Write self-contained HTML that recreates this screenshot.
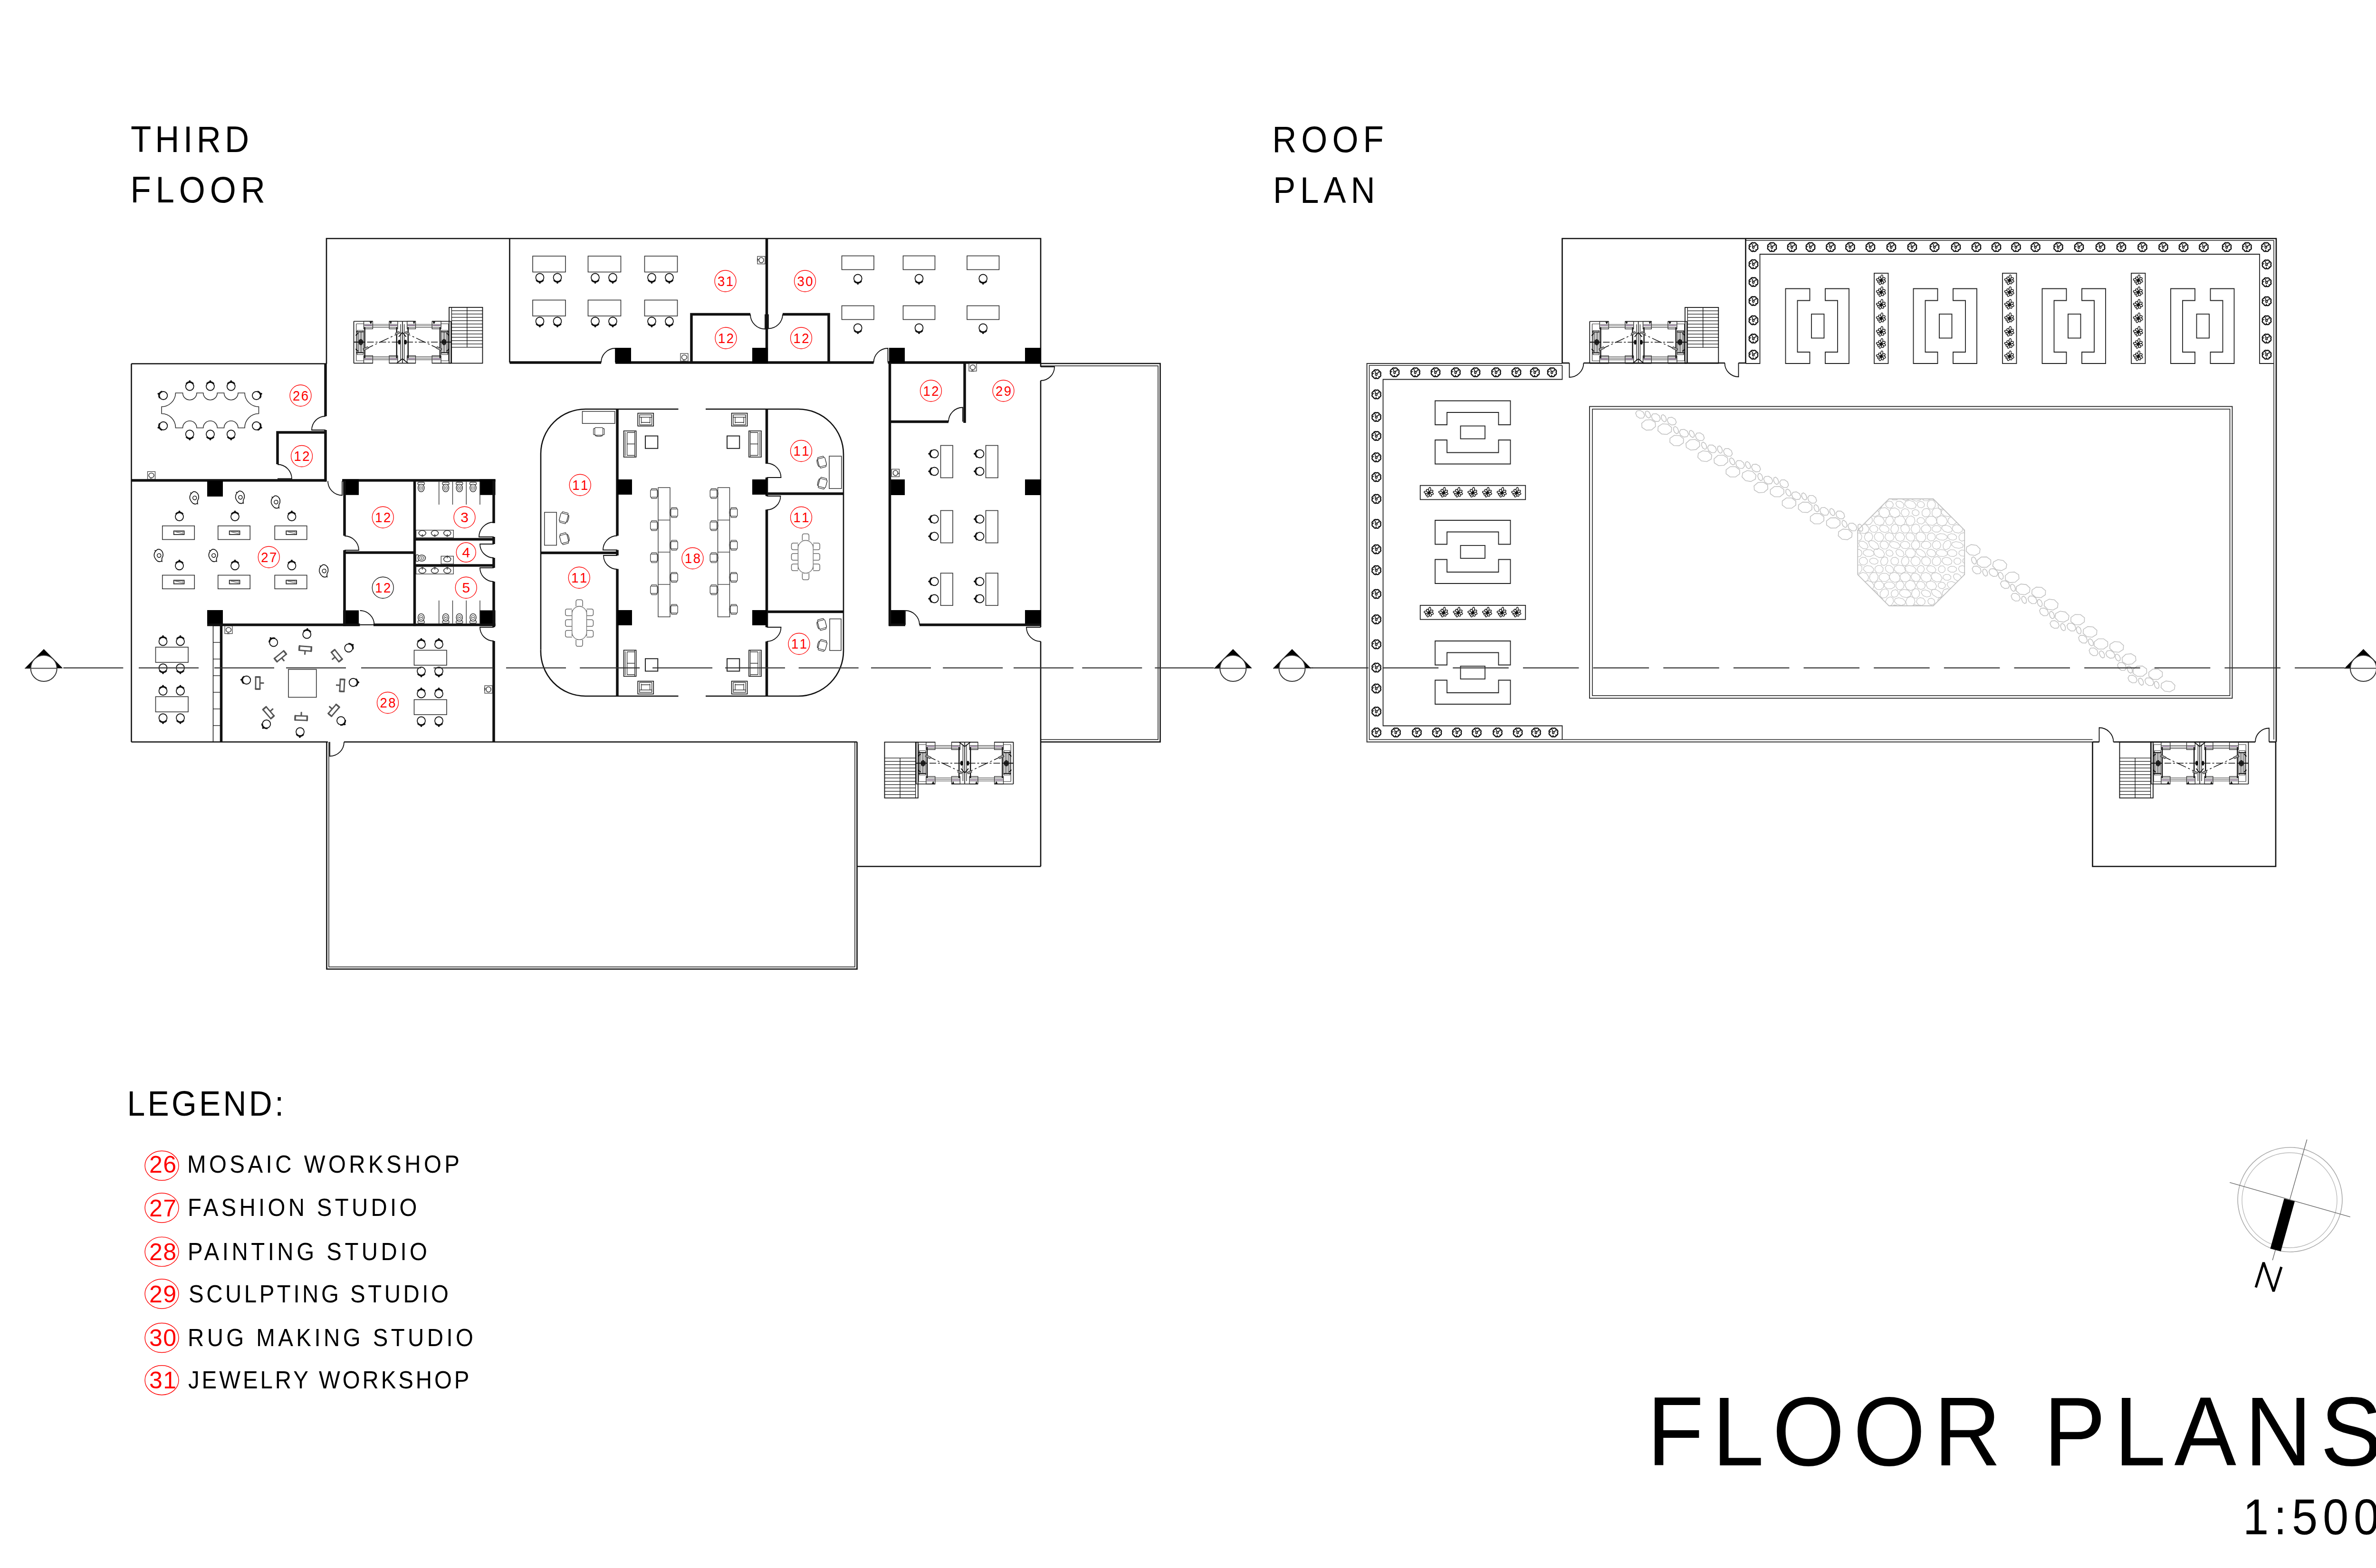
<!DOCTYPE html>
<html><head><meta charset="utf-8"><style>
html,body{margin:0;padding:0;background:#fff;}
body{width:5100px;height:3300px;overflow:hidden;}
svg{position:absolute;left:0;top:0;}
text{font-family:"Liberation Sans",sans-serif;}
</style></head><body>
<svg width="5100" height="3300" viewBox="0 0 5100 3300" stroke-linecap="butt">
<defs><g id="shrub"><path d="M8.6,0 A4,4 0 0 1 6.08,6.08 A4,4 0 0 1 0,8.6 A4,4 0 0 1 -6.08,6.08 A4,4 0 0 1 -8.6,0 A4,4 0 0 1 -6.08,-6.08 A4,4 0 0 1 -0,-8.6 A4,4 0 0 1 6.08,-6.08 A4,4 0 0 1 8.6,-0 Z" fill="none" stroke="#111" stroke-width="2.4"/><path d="M1.8,-2.5 Q-2.5,-1 -2.2,1.8 Q-1,3.6 1.2,2.2 Z M1.6,-2.5 L6.5,-3.5 M-6,-7.5 Q-2,-7 -2,-4 Q-3,-2.5 -1.5,-1 M5,-6 L4.5,-4.5 M-8.5,-1 L-5,-2 M-0.5,5.5 L-1.5,8.5 M7,6 L4,5" fill="none" stroke="#111" stroke-width="1.7"/></g><g id="flower"><ellipse cx="6.05" cy="0" rx="5.5" ry="2.3" transform="rotate(-80)" fill="#fff" stroke="#111" stroke-width="1.5"/><ellipse cx="4.95" cy="0" rx="4.5" ry="2.3" transform="rotate(-30)" fill="#fff" stroke="#111" stroke-width="1.5"/><ellipse cx="4.95" cy="0" rx="4.5" ry="2.3" transform="rotate(15)" fill="#fff" stroke="#111" stroke-width="1.5"/><ellipse cx="4.4" cy="0" rx="4" ry="2.3" transform="rotate(60)" fill="#fff" stroke="#111" stroke-width="1.5"/><ellipse cx="4.95" cy="0" rx="4.5" ry="2.3" transform="rotate(110)" fill="#fff" stroke="#111" stroke-width="1.5"/><ellipse cx="4.4" cy="0" rx="4" ry="2.3" transform="rotate(150)" fill="#fff" stroke="#111" stroke-width="1.5"/><ellipse cx="5.5" cy="0" rx="5" ry="2.3" transform="rotate(190)" fill="#fff" stroke="#111" stroke-width="1.5"/><ellipse cx="4.4" cy="0" rx="4" ry="2.3" transform="rotate(235)" fill="#fff" stroke="#111" stroke-width="1.5"/><circle cx="0" cy="0" r="3.2" fill="#111"/></g><g id="ochair"><rect x="-9" y="-8" width="18" height="16" rx="3" fill="#fff" stroke="#333" stroke-width="1.4"/><rect x="-11.5" y="-6" width="3" height="13" rx="1.2" fill="#fff" stroke="#333" stroke-width="1.2"/><rect x="8.5" y="-6" width="3" height="13" rx="1.2" fill="#fff" stroke="#333" stroke-width="1.2"/><path d="M-8,9 Q0,12 8,9" fill="none" stroke="#333" stroke-width="1.4"/></g><g id="cchair"><path d="M-7,6 V-4 Q-7,-8 -3,-8 H3 Q7,-8 7,-4 V6" fill="#fff" stroke="#666" stroke-width="1.5"/><path d="M-5,6 H5" stroke="#666" stroke-width="1.5"/></g><g id="armchair"><rect x="-16.5" y="-13.5" width="33" height="27" fill="#fff" stroke="#111" stroke-width="1.6"/><rect x="-13" y="-10" width="26" height="5" fill="none" stroke="#111" stroke-width="1.2"/><path d="M-13,-5 V11 M13,-5 V11 M-13,11 H13 M-9,-5 L-9,8 M9,-5 L9,8 M-9,6 H9" fill="none" stroke="#111" stroke-width="1.1"/></g><g id="sofa"><rect x="-13" y="-27.5" width="26" height="55" fill="#fff" stroke="#111" stroke-width="1.6"/><path d="M-10,-25 V25 M-6,-24 V24 M-6,0 H10 M-6,-24 H10 M-6,24 H10 M10,-27 V27" fill="none" stroke="#111" stroke-width="1.1"/></g><g id="manq"><path d="M-8,-9 Q-12,-2 -8,5 Q-4,10 3,12 Q10,12 11,7 Q8,3 9,-2 Q7,-10 0,-12 Q-6,-13 -8,-9 Z" fill="none" stroke="#111" stroke-width="1.7"/><circle cx="1" cy="0" r="4" fill="none" stroke="#111" stroke-width="1.5"/><path d="M-9,-6 h-3 M10,8 l3,1" stroke="#111" stroke-width="1.6"/></g><g id="easel"><rect x="-13" y="-4.5" width="26" height="9" rx="1.5" fill="#fff" stroke="#555" stroke-width="2.8"/><path d="M-12.5,-6 V6 M12.5,-6 V6" stroke="#555" stroke-width="3.2"/><path d="M0,4.5 V13" stroke="#555" stroke-width="3"/></g><g id="toilet"><rect x="-7" y="-12" width="14" height="5" rx="2" fill="#fff" stroke="#333" stroke-width="1.3"/><ellipse cx="0" cy="0" rx="6.5" ry="8" fill="#fff" stroke="#333" stroke-width="1.6"/><ellipse cx="0" cy="0" rx="3.5" ry="4.5" fill="none" stroke="#333" stroke-width="1.2"/><circle cx="0" cy="0" r="1.3" fill="#333"/></g><g id="sink"><ellipse cx="0" cy="0" rx="7.5" ry="5.5" fill="none" stroke="#333" stroke-width="1.6"/><path d="M0,2 V8 M-3,6 H3" stroke="#333" stroke-width="1.4"/></g><g id="wsink"><rect x="-8" y="-8" width="16" height="16" fill="#fff" stroke="#333" stroke-width="1.2"/><ellipse cx="0" cy="0" rx="5.5" ry="5" fill="none" stroke="#333" stroke-width="1.5"/><path d="M-1,5 V9 M-4,8 H3" stroke="#333" stroke-width="1.3"/></g><g id="car" fill="none"><path d="M0,0 H39.9 M74.6,0 H102.3 M0,88.2 H39.9 M74.6,88.2 H102.3 M0,0 V88.2" stroke="#111" stroke-width="1.7"/><path d="M5.25,5.25 H21 M5.25,83 H21 M5.25,5.25 V83" stroke="#333" stroke-width="1.2"/><rect x="21" y="0" width="18.9" height="15.8" fill="none" stroke="#222" stroke-width="1.3"/><rect x="74.6" y="0" width="17.8" height="15.8" fill="none" stroke="#222" stroke-width="1.3"/><rect x="21" y="72.4" width="18.9" height="15.8" fill="none" stroke="#222" stroke-width="1.3"/><rect x="74.6" y="72.4" width="17.8" height="15.8" fill="none" stroke="#222" stroke-width="1.3"/><path d="M33,1 L39,-0 L36,6 Z M80,1 L75,0 L78,6 Z" fill="#111"/><path d="M21,6.3 H92.4 M21,12.6 H92.4 M21,74.6 H92.4 M21,80.9 H92.4 M21,9.3 H92.4 M21,77.8 H92.4" stroke="#444" stroke-width="1.1"/><path d="M23,8.3 H38 M76,8.3 H91 M23,79 H38 M76,79 H91" stroke="#a070b0" stroke-width="1"/><path d="M23.1,12.6 V77.7 M90.3,12.6 V77.7" stroke="#111" stroke-width="2.4"/><path d="M2,43.7 H96" stroke="#111" stroke-width="1.4" stroke-dasharray="14,4,4,4"/><path d="M20.7,60.1 L94.2,25.5" stroke="#111" stroke-width="1.5" stroke-dasharray="22,5,4,5"/><path d="M19,58 l10,-5 l2.5,3.5 l-10,5 Z M87,25 l8,-4 l2.5,3.5 l-8,4 Z" fill="#999" stroke="#222" stroke-width="1"/><path d="M7,19 H20 V70 H7 Z M10,22 V67 M13.5,22 V67 M16.5,22 V67" stroke="#222" stroke-width="1.2"/><path d="M5,22 H21 M5,66 H21 M4,30 l5,-5 M4,58 l5,5" stroke="#111" stroke-width="2"/><ellipse cx="14.7" cy="43.7" rx="5" ry="6.5" fill="#222"/><path d="M0,43.7 H22" stroke="#111" stroke-width="2"/><ellipse cx="95.8" cy="43.7" rx="2.8" ry="5" fill="#111"/><path d="M102.3,0 V88.2 M98.5,6 V83" stroke="#222" stroke-width="1.3"/><path d="M94.5,32.6 L102.3,23.1 M90.3,88.2 L102.3,78.8" stroke="#111" stroke-width="1.8"/></g><g id="elev" fill="none"><use href="#car"/><use href="#car" transform="translate(204.6,0) scale(-1,1)"/><rect x="200.6" y="-29.4" width="70.4" height="117.6" fill="none" stroke="#111" stroke-width="1.8"/><path d="M205.9,-29.4 V88.2" stroke="#111" stroke-width="1.3"/><path d="M205.9,-22.4 H271 M205.9,-15.4 H271 M205.9,-8.4 H271 M205.9,-1.4 H271 M205.9,5.6 H271 M205.9,12.6 H271 M205.9,19.6 H271 M205.9,26.6 H271 M205.9,33.6 H271 M205.9,40.6 H271 M205.9,47.6 H271 M205.9,54.6 H271" stroke="#111" stroke-width="1.4"/><path d="M238.4,-29.4 V54.6" stroke="#111" stroke-width="1.3"/></g></defs>
<polyline points="687,765.5 687,502 2190,502 2190,772" fill="none" stroke="#111" stroke-width="2.6"/>
<line x1="2190" y1="801" x2="2190" y2="1320" stroke="#111" stroke-width="2.6"/>
<line x1="2190" y1="1350" x2="2190" y2="1823.5" stroke="#111" stroke-width="2.6"/>
<line x1="2190" y1="1823.5" x2="1803.5" y2="1823.5" stroke="#111" stroke-width="2.6"/>
<line x1="276.5" y1="765.5" x2="687" y2="765.5" stroke="#111" stroke-width="2.6"/>
<line x1="276.5" y1="765.5" x2="276.5" y2="1561.5" stroke="#111" stroke-width="2.6"/>
<line x1="276.5" y1="1561.5" x2="690" y2="1561.5" stroke="#111" stroke-width="2.6"/>
<line x1="724" y1="1561.5" x2="1803.5" y2="1561.5" stroke="#111" stroke-width="2.6"/>
<path d="M724,1561.5 A30,30 0 0 1 694,1591.5 L694,1561.5" fill="none" stroke="#111" stroke-width="1.8"/>
<polyline points="2190,765 2441.5,765 2441.5,1561.5 2190,1561.5" fill="none" stroke="#111" stroke-width="2.6"/>
<polyline points="2190,770 2437,770 2437,1556.5 2190,1556.5" fill="none" stroke="#111" stroke-width="1.5"/>
<polyline points="687.5,1561.5 687.5,2039.5 1803.5,2039.5 1803.5,1561.5" fill="none" stroke="#111" stroke-width="2.6"/>
<polyline points="692,1561.5 692,2035 1799,2035 1799,1561.5" fill="none" stroke="#111" stroke-width="1.5"/>
<line x1="685" y1="765" x2="685" y2="876" stroke="#111" stroke-width="5.5"/>
<line x1="685" y1="905" x2="685" y2="1013.5" stroke="#111" stroke-width="5.5"/>
<polyline points="584,977 584,910 685,910" fill="none" stroke="#111" stroke-width="5.5"/>
<path d="M584,977.5 A30,30 0 0 1 614,1007.5 L584,1007.5" fill="none" stroke="#111" stroke-width="1.8"/>
<line x1="276.5" y1="1011" x2="687" y2="1011" stroke="#111" stroke-width="5.5"/>
<line x1="720" y1="1011" x2="1042.5" y2="1011" stroke="#111" stroke-width="5.5"/>
<path d="M690,1012.5 A30,30 0 0 0 720,1042.5 L720,1012.5" fill="none" stroke="#111" stroke-width="1.8"/>
<path d="M685,876 A29,29 0 0 0 656,905 L685,905" fill="none" stroke="#111" stroke-width="1.8"/>
<rect x="436" y="1012" width="33" height="33" fill="#000"/>
<rect x="722" y="1008.75" width="33" height="33" fill="#000"/>
<rect x="1009.5" y="1008.75" width="33" height="33" fill="#000"/>
<rect x="436" y="1284" width="33" height="33" fill="#000"/>
<rect x="722" y="1284.5" width="33" height="33" fill="#000"/>
<rect x="1009.5" y="1284.5" width="33" height="33" fill="#000"/>
<line x1="725" y1="1011" x2="725" y2="1127.5" stroke="#111" stroke-width="5.5"/>
<line x1="725" y1="1158" x2="725" y2="1317.5" stroke="#111" stroke-width="5.5"/>
<path d="M725,1128 A30,30 0 0 1 755,1158 L725,1158" fill="none" stroke="#111" stroke-width="1.8"/>
<line x1="872.5" y1="1011" x2="872.5" y2="1317.5" stroke="#111" stroke-width="5.5"/>
<line x1="725" y1="1163" x2="872.5" y2="1163" stroke="#111" stroke-width="5.5"/>
<line x1="1039" y1="1011" x2="1039" y2="1101" stroke="#111" stroke-width="5.5"/>
<line x1="1039" y1="1130" x2="1039" y2="1145" stroke="#111" stroke-width="5.5"/>
<line x1="1039" y1="1174" x2="1039" y2="1195" stroke="#111" stroke-width="5.5"/>
<line x1="1039" y1="1224" x2="1039" y2="1320" stroke="#111" stroke-width="5.5"/>
<line x1="1039" y1="1349" x2="1039" y2="1561.5" stroke="#111" stroke-width="5.5"/>
<path d="M1039,1099 A31,31 0 0 0 1008,1130 L1039,1130" fill="none" stroke="#111" stroke-width="1.8"/>
<path d="M1039,1174 A29,29 0 0 1 1010,1145 L1039,1145" fill="none" stroke="#111" stroke-width="1.8"/>
<path d="M1039,1224 A29,29 0 0 1 1010,1195 L1039,1195" fill="none" stroke="#111" stroke-width="1.8"/>
<path d="M1039,1349 A29,29 0 0 1 1010,1320 L1039,1320" fill="none" stroke="#111" stroke-width="1.8"/>
<line x1="872.5" y1="1135" x2="1039" y2="1135" stroke="#111" stroke-width="5.5"/>
<line x1="872.5" y1="1190" x2="1039" y2="1190" stroke="#111" stroke-width="5.5"/>
<line x1="436" y1="1315" x2="757.5" y2="1315" stroke="#111" stroke-width="5.5"/>
<line x1="786" y1="1315" x2="1042.5" y2="1315" stroke="#111" stroke-width="5.5"/>
<path d="M757.5,1285 A30,30 0 0 1 787.5,1315 L757.5,1315" fill="none" stroke="#111" stroke-width="1.8"/>
<line x1="465.5" y1="1315" x2="465.5" y2="1561.5" stroke="#111" stroke-width="5.5"/>
<line x1="448.5" y1="1315" x2="448.5" y2="1561.5" stroke="#111" stroke-width="1.5"/>
<line x1="448.5" y1="1317" x2="463" y2="1317" stroke="#111" stroke-width="1.3"/>
<line x1="448.5" y1="1352" x2="463" y2="1352" stroke="#111" stroke-width="1.3"/>
<line x1="448.5" y1="1387" x2="463" y2="1387" stroke="#111" stroke-width="1.3"/>
<line x1="448.5" y1="1422" x2="463" y2="1422" stroke="#111" stroke-width="1.3"/>
<line x1="448.5" y1="1457" x2="463" y2="1457" stroke="#111" stroke-width="1.3"/>
<line x1="448.5" y1="1492" x2="463" y2="1492" stroke="#111" stroke-width="1.3"/>
<line x1="448.5" y1="1527" x2="463" y2="1527" stroke="#111" stroke-width="1.3"/>
<line x1="1072.5" y1="502" x2="1072.5" y2="763" stroke="#111" stroke-width="2.6"/>
<line x1="1613.5" y1="502" x2="1613.5" y2="763" stroke="#111" stroke-width="5.5"/>
<line x1="1072.5" y1="763" x2="1265" y2="763" stroke="#111" stroke-width="5.5"/>
<line x1="1295" y1="763" x2="1838.5" y2="763" stroke="#111" stroke-width="5.5"/>
<line x1="1868.5" y1="763" x2="2190" y2="763" stroke="#111" stroke-width="5.5"/>
<path d="M1265,763 A30,30 0 0 1 1295,733 L1295,763" fill="none" stroke="#111" stroke-width="1.8"/>
<path d="M1838.5,763 A30,30 0 0 1 1868.5,733 L1868.5,763" fill="none" stroke="#111" stroke-width="1.8"/>
<polyline points="1455,763 1455,661.5 1579,661.5" fill="none" stroke="#111" stroke-width="5.5"/>
<path d="M1579,661.5 A31,31 0 0 0 1610,692.5 L1610,661.5" fill="none" stroke="#111" stroke-width="1.8"/>
<polyline points="1647,661.5 1744,661.5 1744,763" fill="none" stroke="#111" stroke-width="5.5"/>
<path d="M1647,661.5 A30,30 0 0 1 1617,691.5 L1617,661.5" fill="none" stroke="#111" stroke-width="1.8"/>
<rect x="1295" y="732" width="33" height="33" fill="#000"/>
<rect x="1583" y="732" width="33" height="33" fill="#000"/>
<rect x="1871" y="732" width="33" height="33" fill="#000"/>
<rect x="2157" y="732" width="33" height="33" fill="#000"/>
<rect x="1871" y="1009" width="33" height="33" fill="#000"/>
<rect x="2157" y="1009" width="33" height="33" fill="#000"/>
<rect x="1871" y="1284" width="33" height="33" fill="#000"/>
<rect x="2157" y="1284" width="33" height="33" fill="#000"/>
<line x1="1872.5" y1="763" x2="1872.5" y2="1317.5" stroke="#111" stroke-width="5.5"/>
<line x1="1872.5" y1="887.5" x2="1996" y2="887.5" stroke="#111" stroke-width="5.5"/>
<path d="M1996,887.5 A30,30 0 0 1 2026,857.5 L2026,887.5" fill="none" stroke="#111" stroke-width="1.8"/>
<line x1="2030" y1="763" x2="2030" y2="890" stroke="#111" stroke-width="5.5"/>
<line x1="1871" y1="1315" x2="1905" y2="1315" stroke="#111" stroke-width="5.5"/>
<line x1="1935" y1="1315" x2="2190" y2="1315" stroke="#111" stroke-width="5.5"/>
<path d="M1935,1315 A30,30 0 0 0 1905,1285 L1905,1315" fill="none" stroke="#111" stroke-width="1.8"/>
<path d="M2190,801 A29,29 0 0 0 2219,772 L2190,772" fill="none" stroke="#111" stroke-width="1.8"/>
<path d="M2190,1350 A30,30 0 0 1 2160,1320 L2190,1320" fill="none" stroke="#111" stroke-width="1.8"/>
<path d="M1138,1367.5 V954.5 A94,94 0 0 1 1232,861 H1427.5" fill="none" stroke="#111" stroke-width="2.6"/>
<path d="M1485,861 H1680 A95,95 0 0 1 1775,956 V1369 A95,95 0 0 1 1680,1465 H1485" fill="none" stroke="#111" stroke-width="2.6"/>
<path d="M1427.5,1465 H1232 A94,94 0 0 1 1138,1367.5" fill="none" stroke="#111" stroke-width="2.6"/>
<line x1="1299" y1="861" x2="1299" y2="1127.5" stroke="#111" stroke-width="5.5"/>
<line x1="1299" y1="1197.5" x2="1299" y2="1465" stroke="#111" stroke-width="5.5"/>
<line x1="1299" y1="1157.5" x2="1299" y2="1169" stroke="#111" stroke-width="5.5"/>
<line x1="1613.5" y1="861" x2="1613.5" y2="976" stroke="#111" stroke-width="5.5"/>
<line x1="1613.5" y1="1005" x2="1613.5" y2="1044" stroke="#111" stroke-width="5.5"/>
<line x1="1613.5" y1="1072.5" x2="1613.5" y2="1320" stroke="#111" stroke-width="5.5"/>
<line x1="1613.5" y1="1350" x2="1613.5" y2="1465" stroke="#111" stroke-width="5.5"/>
<line x1="1138" y1="1163.5" x2="1300" y2="1163.5" stroke="#111" stroke-width="5.5"/>
<line x1="1613.5" y1="1039" x2="1775" y2="1039" stroke="#111" stroke-width="5.5"/>
<line x1="1613.5" y1="1287.5" x2="1775" y2="1287.5" stroke="#111" stroke-width="5.5"/>
<rect x="1299" y="1009" width="31" height="32" fill="#000"/>
<rect x="1583" y="1009" width="31" height="32" fill="#000"/>
<rect x="1299" y="1284" width="31" height="32" fill="#000"/>
<rect x="1583" y="1284" width="31" height="32" fill="#000"/>
<path d="M1299,1127.5 A30,30 0 0 0 1269,1157.5 L1299,1157.5" fill="none" stroke="#111" stroke-width="1.8"/>
<path d="M1299,1198 A29,29 0 0 1 1270,1169 L1299,1169" fill="none" stroke="#111" stroke-width="1.8"/>
<path d="M1613.5,975 A30,30 0 0 1 1643.5,1005 L1613.5,1005" fill="none" stroke="#111" stroke-width="1.8"/>
<path d="M1613.5,1073 A29,29 0 0 0 1642.5,1044 L1613.5,1044" fill="none" stroke="#111" stroke-width="1.8"/>
<path d="M1613.5,1350 A30,30 0 0 0 1643.5,1320 L1613.5,1320" fill="none" stroke="#111" stroke-width="1.8"/>
<path d="M369.5,827 H384.5 A14.75,14.75 0 0 0 414,827 H427.75 A14.75,14.75 0 0 0 457.25,827 H471.5 A14.75,14.75 0 0 0 501,827 H515 A29.5,29.5 0 0 0 544.5,856 V870.5 A29.5,29.5 0 0 0 515,900.5 H501 A14.75,14.75 0 0 0 471.5,900.5 H457.25 A14.75,14.75 0 0 0 427.75,900.5 H414 A14.75,14.75 0 0 0 384.5,900.5 H369.5 A29.5,29.5 0 0 0 340,870.5 V856 A29.5,29.5 0 0 0 369.5,827 Z" fill="none" stroke="#333" stroke-width="1.6"/>
<circle cx="399.25" cy="813.25" r="8.5" fill="none" stroke="#111" stroke-width="1.8"/>
<path d="M391.8,808.03 A9.1,9.1 0 0 1 406.7,808.03" fill="none" stroke="#111" stroke-width="3.2"/>
<circle cx="399.25" cy="802.25" r="1.2" fill="#111" stroke="#111" stroke-width="1.5"/>
<circle cx="399.25" cy="913.75" r="8.5" fill="none" stroke="#111" stroke-width="1.8"/>
<path d="M406.7,918.97 A9.1,9.1 0 0 1 391.8,918.97" fill="none" stroke="#111" stroke-width="3.2"/>
<circle cx="399.25" cy="924.75" r="1.2" fill="#111" stroke="#111" stroke-width="1.5"/>
<circle cx="442.5" cy="813.25" r="8.5" fill="none" stroke="#111" stroke-width="1.8"/>
<path d="M435.05,808.03 A9.1,9.1 0 0 1 449.95,808.03" fill="none" stroke="#111" stroke-width="3.2"/>
<circle cx="442.5" cy="802.25" r="1.2" fill="#111" stroke="#111" stroke-width="1.5"/>
<circle cx="442.5" cy="913.75" r="8.5" fill="none" stroke="#111" stroke-width="1.8"/>
<path d="M449.95,918.97 A9.1,9.1 0 0 1 435.05,918.97" fill="none" stroke="#111" stroke-width="3.2"/>
<circle cx="442.5" cy="924.75" r="1.2" fill="#111" stroke="#111" stroke-width="1.5"/>
<circle cx="486.25" cy="813.25" r="8.5" fill="none" stroke="#111" stroke-width="1.8"/>
<path d="M478.8,808.03 A9.1,9.1 0 0 1 493.7,808.03" fill="none" stroke="#111" stroke-width="3.2"/>
<circle cx="486.25" cy="802.25" r="1.2" fill="#111" stroke="#111" stroke-width="1.5"/>
<circle cx="486.25" cy="913.75" r="8.5" fill="none" stroke="#111" stroke-width="1.8"/>
<path d="M493.7,918.97 A9.1,9.1 0 0 1 478.8,918.97" fill="none" stroke="#111" stroke-width="3.2"/>
<circle cx="486.25" cy="924.75" r="1.2" fill="#111" stroke="#111" stroke-width="1.5"/>
<circle cx="343.75" cy="832.5" r="8.5" fill="none" stroke="#111" stroke-width="1.8"/>
<path d="M336.3,837.72 A9.1,9.1 0 0 1 341.39,823.71" fill="none" stroke="#111" stroke-width="3.2"/>
<circle cx="333.41" cy="828.74" r="1.2" fill="#111" stroke="#111" stroke-width="1.5"/>
<circle cx="343.75" cy="896.25" r="8.5" fill="none" stroke="#111" stroke-width="1.8"/>
<path d="M341.39,905.04 A9.1,9.1 0 0 1 336.3,891.03" fill="none" stroke="#111" stroke-width="3.2"/>
<circle cx="333.41" cy="900.01" r="1.2" fill="#111" stroke="#111" stroke-width="1.5"/>
<circle cx="539.5" cy="832.5" r="8.5" fill="none" stroke="#111" stroke-width="1.8"/>
<path d="M541.86,823.71 A9.1,9.1 0 0 1 546.95,837.72" fill="none" stroke="#111" stroke-width="3.2"/>
<circle cx="549.84" cy="828.74" r="1.2" fill="#111" stroke="#111" stroke-width="1.5"/>
<circle cx="539.5" cy="896.25" r="8.5" fill="none" stroke="#111" stroke-width="1.8"/>
<path d="M546.95,891.03 A9.1,9.1 0 0 1 541.86,905.04" fill="none" stroke="#111" stroke-width="3.2"/>
<circle cx="549.84" cy="900.01" r="1.2" fill="#111" stroke="#111" stroke-width="1.5"/>
<use href="#wsink" transform="translate(318.5,1000.5)"/>
<use href="#manq" transform="translate(408.75,1047.5) rotate(25)"/>
<use href="#manq" transform="translate(505,1046.25) rotate(25)"/>
<use href="#manq" transform="translate(580,1056.25) rotate(25)"/>
<use href="#manq" transform="translate(333.75,1168.75) rotate(25)"/>
<use href="#manq" transform="translate(448.75,1168.75) rotate(25)"/>
<use href="#manq" transform="translate(681.25,1201.25) rotate(25)"/>
<rect x="341.75" y="1106.75" width="67.5" height="28.75" fill="none" stroke="#333" stroke-width="1.6"/>
<rect x="365.75" y="1117.5" width="21.75" height="7.5" fill="none" stroke="#222" stroke-width="1.8"/>
<path d="M368.75,1119.25 H384.75 V1123.25 Z" fill="none" stroke="#555" stroke-width="1"/>
<circle cx="377.5" cy="1087.5" r="8.5" fill="none" stroke="#111" stroke-width="1.8"/>
<path d="M370.05,1082.28 A9.1,9.1 0 0 1 384.95,1082.28" fill="none" stroke="#111" stroke-width="3.2"/>
<circle cx="377.5" cy="1076.5" r="1.2" fill="#111" stroke="#111" stroke-width="1.5"/>
<rect x="341.75" y="1210.5" width="67.5" height="28.75" fill="none" stroke="#333" stroke-width="1.6"/>
<rect x="365.75" y="1221.25" width="21.75" height="7.5" fill="none" stroke="#222" stroke-width="1.8"/>
<path d="M368.75,1223 H384.75 V1227 Z" fill="none" stroke="#555" stroke-width="1"/>
<circle cx="377.5" cy="1190.75" r="8.5" fill="none" stroke="#111" stroke-width="1.8"/>
<path d="M370.05,1185.53 A9.1,9.1 0 0 1 384.95,1185.53" fill="none" stroke="#111" stroke-width="3.2"/>
<circle cx="377.5" cy="1179.75" r="1.2" fill="#111" stroke="#111" stroke-width="1.5"/>
<rect x="458.75" y="1106.75" width="67.5" height="28.75" fill="none" stroke="#333" stroke-width="1.6"/>
<rect x="482.75" y="1117.5" width="21.75" height="7.5" fill="none" stroke="#222" stroke-width="1.8"/>
<path d="M485.75,1119.25 H501.75 V1123.25 Z" fill="none" stroke="#555" stroke-width="1"/>
<circle cx="494.5" cy="1087.5" r="8.5" fill="none" stroke="#111" stroke-width="1.8"/>
<path d="M487.05,1082.28 A9.1,9.1 0 0 1 501.95,1082.28" fill="none" stroke="#111" stroke-width="3.2"/>
<circle cx="494.5" cy="1076.5" r="1.2" fill="#111" stroke="#111" stroke-width="1.5"/>
<rect x="458.75" y="1210.5" width="67.5" height="28.75" fill="none" stroke="#333" stroke-width="1.6"/>
<rect x="482.75" y="1221.25" width="21.75" height="7.5" fill="none" stroke="#222" stroke-width="1.8"/>
<path d="M485.75,1223 H501.75 V1227 Z" fill="none" stroke="#555" stroke-width="1"/>
<circle cx="494.5" cy="1190.75" r="8.5" fill="none" stroke="#111" stroke-width="1.8"/>
<path d="M487.05,1185.53 A9.1,9.1 0 0 1 501.95,1185.53" fill="none" stroke="#111" stroke-width="3.2"/>
<circle cx="494.5" cy="1179.75" r="1.2" fill="#111" stroke="#111" stroke-width="1.5"/>
<rect x="578.25" y="1106.75" width="67.5" height="28.75" fill="none" stroke="#333" stroke-width="1.6"/>
<rect x="602.25" y="1117.5" width="21.75" height="7.5" fill="none" stroke="#222" stroke-width="1.8"/>
<path d="M605.25,1119.25 H621.25 V1123.25 Z" fill="none" stroke="#555" stroke-width="1"/>
<circle cx="614" cy="1087.5" r="8.5" fill="none" stroke="#111" stroke-width="1.8"/>
<path d="M606.55,1082.28 A9.1,9.1 0 0 1 621.45,1082.28" fill="none" stroke="#111" stroke-width="3.2"/>
<circle cx="614" cy="1076.5" r="1.2" fill="#111" stroke="#111" stroke-width="1.5"/>
<rect x="578.25" y="1210.5" width="67.5" height="28.75" fill="none" stroke="#333" stroke-width="1.6"/>
<rect x="602.25" y="1221.25" width="21.75" height="7.5" fill="none" stroke="#222" stroke-width="1.8"/>
<path d="M605.25,1223 H621.25 V1227 Z" fill="none" stroke="#555" stroke-width="1"/>
<circle cx="614" cy="1190.75" r="8.5" fill="none" stroke="#111" stroke-width="1.8"/>
<path d="M606.55,1185.53 A9.1,9.1 0 0 1 621.45,1185.53" fill="none" stroke="#111" stroke-width="3.2"/>
<circle cx="614" cy="1179.75" r="1.2" fill="#111" stroke="#111" stroke-width="1.5"/>
<rect x="327.5" y="1362" width="68.5" height="32" fill="none" stroke="#333" stroke-width="1.6"/>
<circle cx="343" cy="1350" r="8.5" fill="none" stroke="#111" stroke-width="1.8"/>
<path d="M335.55,1344.78 A9.1,9.1 0 0 1 350.45,1344.78" fill="none" stroke="#111" stroke-width="3.2"/>
<circle cx="343" cy="1339" r="1.2" fill="#111" stroke="#111" stroke-width="1.5"/>
<circle cx="343" cy="1405.75" r="8.5" fill="none" stroke="#111" stroke-width="1.8"/>
<path d="M350.45,1410.97 A9.1,9.1 0 0 1 335.55,1410.97" fill="none" stroke="#111" stroke-width="3.2"/>
<circle cx="343" cy="1416.75" r="1.2" fill="#111" stroke="#111" stroke-width="1.5"/>
<circle cx="379.5" cy="1350" r="8.5" fill="none" stroke="#111" stroke-width="1.8"/>
<path d="M372.05,1344.78 A9.1,9.1 0 0 1 386.95,1344.78" fill="none" stroke="#111" stroke-width="3.2"/>
<circle cx="379.5" cy="1339" r="1.2" fill="#111" stroke="#111" stroke-width="1.5"/>
<circle cx="379.5" cy="1405.75" r="8.5" fill="none" stroke="#111" stroke-width="1.8"/>
<path d="M386.95,1410.97 A9.1,9.1 0 0 1 372.05,1410.97" fill="none" stroke="#111" stroke-width="3.2"/>
<circle cx="379.5" cy="1416.75" r="1.2" fill="#111" stroke="#111" stroke-width="1.5"/>
<rect x="327.5" y="1466.25" width="68.5" height="32" fill="none" stroke="#333" stroke-width="1.6"/>
<circle cx="343" cy="1454.5" r="8.5" fill="none" stroke="#111" stroke-width="1.8"/>
<path d="M335.55,1449.28 A9.1,9.1 0 0 1 350.45,1449.28" fill="none" stroke="#111" stroke-width="3.2"/>
<circle cx="343" cy="1443.5" r="1.2" fill="#111" stroke="#111" stroke-width="1.5"/>
<circle cx="343" cy="1510.75" r="8.5" fill="none" stroke="#111" stroke-width="1.8"/>
<path d="M350.45,1515.97 A9.1,9.1 0 0 1 335.55,1515.97" fill="none" stroke="#111" stroke-width="3.2"/>
<circle cx="343" cy="1521.75" r="1.2" fill="#111" stroke="#111" stroke-width="1.5"/>
<circle cx="379.5" cy="1454.5" r="8.5" fill="none" stroke="#111" stroke-width="1.8"/>
<path d="M372.05,1449.28 A9.1,9.1 0 0 1 386.95,1449.28" fill="none" stroke="#111" stroke-width="3.2"/>
<circle cx="379.5" cy="1443.5" r="1.2" fill="#111" stroke="#111" stroke-width="1.5"/>
<circle cx="379.5" cy="1510.75" r="8.5" fill="none" stroke="#111" stroke-width="1.8"/>
<path d="M386.95,1515.97 A9.1,9.1 0 0 1 372.05,1515.97" fill="none" stroke="#111" stroke-width="3.2"/>
<circle cx="379.5" cy="1521.75" r="1.2" fill="#111" stroke="#111" stroke-width="1.5"/>
<use href="#wsink" transform="translate(481,1325.5)"/>
<rect x="607" y="1408.75" width="58.75" height="58.75" fill="none" stroke="#333" stroke-width="1.6"/>
<circle cx="645.75" cy="1335" r="8.5" fill="none" stroke="#111" stroke-width="1.8"/>
<path d="M638.8,1329.13 A9.1,9.1 0 0 1 653.65,1330.48" fill="none" stroke="#111" stroke-width="3.2"/>
<circle cx="646.74" cy="1324.05" r="1.2" fill="#111" stroke="#111" stroke-width="1.5"/>
<circle cx="575.75" cy="1352" r="8.5" fill="none" stroke="#111" stroke-width="1.8"/>
<path d="M566.65,1352.03 A9.1,9.1 0 0 1 578.83,1343.44" fill="none" stroke="#111" stroke-width="3.2"/>
<circle cx="569.41" cy="1343.01" r="1.2" fill="#111" stroke="#111" stroke-width="1.5"/>
<circle cx="733.75" cy="1363.75" r="8.5" fill="none" stroke="#111" stroke-width="1.8"/>
<path d="M733.38,1354.66 A9.1,9.1 0 0 1 742.42,1366.51" fill="none" stroke="#111" stroke-width="3.2"/>
<circle cx="742.5" cy="1357.08" r="1.2" fill="#111" stroke="#111" stroke-width="1.5"/>
<circle cx="518.75" cy="1431.25" r="8.5" fill="none" stroke="#111" stroke-width="1.8"/>
<path d="M513.11,1438.39 A9.1,9.1 0 0 1 513.97,1423.51" fill="none" stroke="#111" stroke-width="3.2"/>
<circle cx="507.77" cy="1430.62" r="1.2" fill="#111" stroke="#111" stroke-width="1.5"/>
<circle cx="743.25" cy="1436.25" r="8.5" fill="none" stroke="#111" stroke-width="1.8"/>
<path d="M748.35,1428.71 A9.1,9.1 0 0 1 748.59,1443.62" fill="none" stroke="#111" stroke-width="3.2"/>
<circle cx="754.25" cy="1436.07" r="1.2" fill="#111" stroke="#111" stroke-width="1.5"/>
<circle cx="560.75" cy="1523.75" r="8.5" fill="none" stroke="#111" stroke-width="1.8"/>
<path d="M562.89,1532.6 A9.1,9.1 0 0 1 551.71,1522.73" fill="none" stroke="#111" stroke-width="3.2"/>
<circle cx="553.47" cy="1532" r="1.2" fill="#111" stroke="#111" stroke-width="1.5"/>
<circle cx="717.5" cy="1516.75" r="8.5" fill="none" stroke="#111" stroke-width="1.8"/>
<path d="M726.44,1515.04 A9.1,9.1 0 0 1 716.05,1525.73" fill="none" stroke="#111" stroke-width="3.2"/>
<circle cx="725.39" cy="1524.41" r="1.2" fill="#111" stroke="#111" stroke-width="1.5"/>
<circle cx="631.5" cy="1540" r="8.5" fill="none" stroke="#111" stroke-width="1.8"/>
<path d="M638.7,1545.57 A9.1,9.1 0 0 1 623.8,1544.86" fill="none" stroke="#111" stroke-width="3.2"/>
<circle cx="630.97" cy="1550.99" r="1.2" fill="#111" stroke="#111" stroke-width="1.5"/>
<use href="#easel" transform="translate(642.5,1365) rotate(4.78)"/>
<use href="#easel" transform="translate(590,1381.25) rotate(-39.27)"/>
<use href="#easel" transform="translate(708.75,1380) rotate(51.28)"/>
<use href="#easel" transform="translate(542.5,1437.5) rotate(-89.69)"/>
<use href="#easel" transform="translate(720,1442.5) rotate(93.08)"/>
<use href="#easel" transform="translate(565,1500) rotate(229.03)"/>
<use href="#easel" transform="translate(633.75,1511.25) rotate(182.07)"/>
<use href="#easel" transform="translate(702.5,1495) rotate(130.77)"/>
<rect x="871.5" y="1368.5" width="68.5" height="31.5" fill="none" stroke="#333" stroke-width="1.6"/>
<circle cx="886.5" cy="1356" r="8.5" fill="none" stroke="#111" stroke-width="1.8"/>
<path d="M879.05,1350.78 A9.1,9.1 0 0 1 893.95,1350.78" fill="none" stroke="#111" stroke-width="3.2"/>
<circle cx="886.5" cy="1345" r="1.2" fill="#111" stroke="#111" stroke-width="1.5"/>
<circle cx="886.5" cy="1412.5" r="8.5" fill="none" stroke="#111" stroke-width="1.8"/>
<path d="M893.95,1417.72 A9.1,9.1 0 0 1 879.05,1417.72" fill="none" stroke="#111" stroke-width="3.2"/>
<circle cx="886.5" cy="1423.5" r="1.2" fill="#111" stroke="#111" stroke-width="1.5"/>
<circle cx="923.5" cy="1356" r="8.5" fill="none" stroke="#111" stroke-width="1.8"/>
<path d="M916.05,1350.78 A9.1,9.1 0 0 1 930.95,1350.78" fill="none" stroke="#111" stroke-width="3.2"/>
<circle cx="923.5" cy="1345" r="1.2" fill="#111" stroke="#111" stroke-width="1.5"/>
<circle cx="923.5" cy="1412.5" r="8.5" fill="none" stroke="#111" stroke-width="1.8"/>
<path d="M930.95,1417.72 A9.1,9.1 0 0 1 916.05,1417.72" fill="none" stroke="#111" stroke-width="3.2"/>
<circle cx="923.5" cy="1423.5" r="1.2" fill="#111" stroke="#111" stroke-width="1.5"/>
<rect x="871.5" y="1472.5" width="68.5" height="31.5" fill="none" stroke="#333" stroke-width="1.6"/>
<circle cx="886.5" cy="1460" r="8.5" fill="none" stroke="#111" stroke-width="1.8"/>
<path d="M879.05,1454.78 A9.1,9.1 0 0 1 893.95,1454.78" fill="none" stroke="#111" stroke-width="3.2"/>
<circle cx="886.5" cy="1449" r="1.2" fill="#111" stroke="#111" stroke-width="1.5"/>
<circle cx="886.5" cy="1517" r="8.5" fill="none" stroke="#111" stroke-width="1.8"/>
<path d="M893.95,1522.22 A9.1,9.1 0 0 1 879.05,1522.22" fill="none" stroke="#111" stroke-width="3.2"/>
<circle cx="886.5" cy="1528" r="1.2" fill="#111" stroke="#111" stroke-width="1.5"/>
<circle cx="923.5" cy="1460" r="8.5" fill="none" stroke="#111" stroke-width="1.8"/>
<path d="M916.05,1454.78 A9.1,9.1 0 0 1 930.95,1454.78" fill="none" stroke="#111" stroke-width="3.2"/>
<circle cx="923.5" cy="1449" r="1.2" fill="#111" stroke="#111" stroke-width="1.5"/>
<circle cx="923.5" cy="1517" r="8.5" fill="none" stroke="#111" stroke-width="1.8"/>
<path d="M930.95,1522.22 A9.1,9.1 0 0 1 916.05,1522.22" fill="none" stroke="#111" stroke-width="3.2"/>
<circle cx="923.5" cy="1528" r="1.2" fill="#111" stroke="#111" stroke-width="1.5"/>
<use href="#wsink" transform="translate(1028,1451) rotate(90)"/>
<line x1="923.75" y1="1014" x2="923.75" y2="1062" stroke="#333" stroke-width="1.4"/>
<line x1="923.75" y1="1263.75" x2="923.75" y2="1313" stroke="#333" stroke-width="1.4"/>
<line x1="952.5" y1="1014" x2="952.5" y2="1062" stroke="#333" stroke-width="1.4"/>
<line x1="952.5" y1="1263.75" x2="952.5" y2="1313" stroke="#333" stroke-width="1.4"/>
<line x1="981.25" y1="1014" x2="981.25" y2="1062" stroke="#333" stroke-width="1.4"/>
<line x1="981.25" y1="1263.75" x2="981.25" y2="1313" stroke="#333" stroke-width="1.4"/>
<line x1="1010" y1="1014" x2="1010" y2="1062" stroke="#333" stroke-width="1.4"/>
<line x1="1010" y1="1263.75" x2="1010" y2="1313" stroke="#333" stroke-width="1.4"/>
<use href="#toilet" transform="translate(886.25,1027)"/>
<use href="#toilet" transform="translate(886.25,1299.5) rotate(180)"/>
<use href="#toilet" transform="translate(938,1027)"/>
<use href="#toilet" transform="translate(938,1299.5) rotate(180)"/>
<use href="#toilet" transform="translate(966.75,1027)"/>
<use href="#toilet" transform="translate(966.75,1299.5) rotate(180)"/>
<use href="#toilet" transform="translate(995.5,1027)"/>
<use href="#toilet" transform="translate(995.5,1299.5) rotate(180)"/>
<rect x="875.5" y="1115.75" width="78.75" height="16" fill="none" stroke="#333" stroke-width="1.3"/>
<rect x="875.5" y="1192.5" width="78.75" height="15.5" fill="none" stroke="#333" stroke-width="1.3"/>
<use href="#sink" transform="translate(888.75,1122)"/>
<use href="#sink" transform="translate(888.75,1201) rotate(180)"/>
<use href="#sink" transform="translate(915,1122)"/>
<use href="#sink" transform="translate(915,1201) rotate(180)"/>
<use href="#sink" transform="translate(941.25,1122)"/>
<use href="#sink" transform="translate(941.25,1201) rotate(180)"/>
<use href="#toilet" transform="translate(887.5,1174.5) rotate(-90)"/>
<rect x="928.25" y="1170.5" width="26" height="16.5" fill="none" stroke="#333" stroke-width="1.3"/>
<use href="#sink" transform="translate(941.25,1177) rotate(180)"/>
<rect x="1121" y="539" width="69" height="33.5" fill="none" stroke="#333" stroke-width="1.6"/>
<circle cx="1136" cy="584" r="8.5" fill="none" stroke="#111" stroke-width="1.8"/>
<path d="M1143.45,589.22 A9.1,9.1 0 0 1 1128.55,589.22" fill="none" stroke="#111" stroke-width="3.2"/>
<circle cx="1136" cy="595" r="1.2" fill="#111" stroke="#111" stroke-width="1.5"/>
<circle cx="1173" cy="584" r="8.5" fill="none" stroke="#111" stroke-width="1.8"/>
<path d="M1180.45,589.22 A9.1,9.1 0 0 1 1165.55,589.22" fill="none" stroke="#111" stroke-width="3.2"/>
<circle cx="1173" cy="595" r="1.2" fill="#111" stroke="#111" stroke-width="1.5"/>
<rect x="1121" y="631.5" width="69" height="33.5" fill="none" stroke="#333" stroke-width="1.6"/>
<circle cx="1136" cy="676" r="8.5" fill="none" stroke="#111" stroke-width="1.8"/>
<path d="M1143.45,681.22 A9.1,9.1 0 0 1 1128.55,681.22" fill="none" stroke="#111" stroke-width="3.2"/>
<circle cx="1136" cy="687" r="1.2" fill="#111" stroke="#111" stroke-width="1.5"/>
<circle cx="1173" cy="676" r="8.5" fill="none" stroke="#111" stroke-width="1.8"/>
<path d="M1180.45,681.22 A9.1,9.1 0 0 1 1165.55,681.22" fill="none" stroke="#111" stroke-width="3.2"/>
<circle cx="1173" cy="687" r="1.2" fill="#111" stroke="#111" stroke-width="1.5"/>
<rect x="1237.5" y="539" width="69" height="33.5" fill="none" stroke="#333" stroke-width="1.6"/>
<circle cx="1252.5" cy="584" r="8.5" fill="none" stroke="#111" stroke-width="1.8"/>
<path d="M1259.95,589.22 A9.1,9.1 0 0 1 1245.05,589.22" fill="none" stroke="#111" stroke-width="3.2"/>
<circle cx="1252.5" cy="595" r="1.2" fill="#111" stroke="#111" stroke-width="1.5"/>
<circle cx="1289.5" cy="584" r="8.5" fill="none" stroke="#111" stroke-width="1.8"/>
<path d="M1296.95,589.22 A9.1,9.1 0 0 1 1282.05,589.22" fill="none" stroke="#111" stroke-width="3.2"/>
<circle cx="1289.5" cy="595" r="1.2" fill="#111" stroke="#111" stroke-width="1.5"/>
<rect x="1237.5" y="631.5" width="69" height="33.5" fill="none" stroke="#333" stroke-width="1.6"/>
<circle cx="1252.5" cy="676" r="8.5" fill="none" stroke="#111" stroke-width="1.8"/>
<path d="M1259.95,681.22 A9.1,9.1 0 0 1 1245.05,681.22" fill="none" stroke="#111" stroke-width="3.2"/>
<circle cx="1252.5" cy="687" r="1.2" fill="#111" stroke="#111" stroke-width="1.5"/>
<circle cx="1289.5" cy="676" r="8.5" fill="none" stroke="#111" stroke-width="1.8"/>
<path d="M1296.95,681.22 A9.1,9.1 0 0 1 1282.05,681.22" fill="none" stroke="#111" stroke-width="3.2"/>
<circle cx="1289.5" cy="687" r="1.2" fill="#111" stroke="#111" stroke-width="1.5"/>
<rect x="1356.5" y="539" width="69" height="33.5" fill="none" stroke="#333" stroke-width="1.6"/>
<circle cx="1371.5" cy="584" r="8.5" fill="none" stroke="#111" stroke-width="1.8"/>
<path d="M1378.95,589.22 A9.1,9.1 0 0 1 1364.05,589.22" fill="none" stroke="#111" stroke-width="3.2"/>
<circle cx="1371.5" cy="595" r="1.2" fill="#111" stroke="#111" stroke-width="1.5"/>
<circle cx="1408.5" cy="584" r="8.5" fill="none" stroke="#111" stroke-width="1.8"/>
<path d="M1415.95,589.22 A9.1,9.1 0 0 1 1401.05,589.22" fill="none" stroke="#111" stroke-width="3.2"/>
<circle cx="1408.5" cy="595" r="1.2" fill="#111" stroke="#111" stroke-width="1.5"/>
<rect x="1356.5" y="631.5" width="69" height="33.5" fill="none" stroke="#333" stroke-width="1.6"/>
<circle cx="1371.5" cy="676" r="8.5" fill="none" stroke="#111" stroke-width="1.8"/>
<path d="M1378.95,681.22 A9.1,9.1 0 0 1 1364.05,681.22" fill="none" stroke="#111" stroke-width="3.2"/>
<circle cx="1371.5" cy="687" r="1.2" fill="#111" stroke="#111" stroke-width="1.5"/>
<circle cx="1408.5" cy="676" r="8.5" fill="none" stroke="#111" stroke-width="1.8"/>
<path d="M1415.95,681.22 A9.1,9.1 0 0 1 1401.05,681.22" fill="none" stroke="#111" stroke-width="3.2"/>
<circle cx="1408.5" cy="687" r="1.2" fill="#111" stroke="#111" stroke-width="1.5"/>
<use href="#wsink" transform="translate(1602,547.5) rotate(90)"/>
<use href="#wsink" transform="translate(1440,752)"/>
<rect x="1771.5" y="538.5" width="67.5" height="29" fill="none" stroke="#333" stroke-width="1.6"/>
<circle cx="1805.25" cy="586" r="8.5" fill="none" stroke="#111" stroke-width="1.8"/>
<path d="M1812.7,591.22 A9.1,9.1 0 0 1 1797.8,591.22" fill="none" stroke="#111" stroke-width="3.2"/>
<circle cx="1805.25" cy="597" r="1.2" fill="#111" stroke="#111" stroke-width="1.5"/>
<rect x="1771.5" y="643.5" width="67.5" height="29" fill="none" stroke="#333" stroke-width="1.6"/>
<circle cx="1805.25" cy="690" r="8.5" fill="none" stroke="#111" stroke-width="1.8"/>
<path d="M1812.7,695.22 A9.1,9.1 0 0 1 1797.8,695.22" fill="none" stroke="#111" stroke-width="3.2"/>
<circle cx="1805.25" cy="701" r="1.2" fill="#111" stroke="#111" stroke-width="1.5"/>
<rect x="1900.5" y="538.5" width="67" height="29" fill="none" stroke="#333" stroke-width="1.6"/>
<circle cx="1934" cy="586" r="8.5" fill="none" stroke="#111" stroke-width="1.8"/>
<path d="M1941.45,591.22 A9.1,9.1 0 0 1 1926.55,591.22" fill="none" stroke="#111" stroke-width="3.2"/>
<circle cx="1934" cy="597" r="1.2" fill="#111" stroke="#111" stroke-width="1.5"/>
<rect x="1900.5" y="643.5" width="67" height="29" fill="none" stroke="#333" stroke-width="1.6"/>
<circle cx="1934" cy="690" r="8.5" fill="none" stroke="#111" stroke-width="1.8"/>
<path d="M1941.45,695.22 A9.1,9.1 0 0 1 1926.55,695.22" fill="none" stroke="#111" stroke-width="3.2"/>
<circle cx="1934" cy="701" r="1.2" fill="#111" stroke="#111" stroke-width="1.5"/>
<rect x="2035" y="538.5" width="67.5" height="29" fill="none" stroke="#333" stroke-width="1.6"/>
<circle cx="2068.75" cy="586" r="8.5" fill="none" stroke="#111" stroke-width="1.8"/>
<path d="M2076.2,591.22 A9.1,9.1 0 0 1 2061.3,591.22" fill="none" stroke="#111" stroke-width="3.2"/>
<circle cx="2068.75" cy="597" r="1.2" fill="#111" stroke="#111" stroke-width="1.5"/>
<rect x="2035" y="643.5" width="67.5" height="29" fill="none" stroke="#333" stroke-width="1.6"/>
<circle cx="2068.75" cy="690" r="8.5" fill="none" stroke="#111" stroke-width="1.8"/>
<path d="M2076.2,695.22 A9.1,9.1 0 0 1 2061.3,695.22" fill="none" stroke="#111" stroke-width="3.2"/>
<circle cx="2068.75" cy="701" r="1.2" fill="#111" stroke="#111" stroke-width="1.5"/>
<use href="#wsink" transform="translate(1884.4,995.4) rotate(-90)"/>
<use href="#wsink" transform="translate(2047,773)"/>
<rect x="1979.5" y="937.5" width="25.5" height="68" fill="none" stroke="#333" stroke-width="1.6"/>
<circle cx="1966.25" cy="955" r="8.5" fill="none" stroke="#111" stroke-width="1.8"/>
<path d="M1961.03,962.45 A9.1,9.1 0 0 1 1961.03,947.55" fill="none" stroke="#111" stroke-width="3.2"/>
<circle cx="1955.25" cy="955" r="1.2" fill="#111" stroke="#111" stroke-width="1.5"/>
<circle cx="1966.25" cy="992" r="8.5" fill="none" stroke="#111" stroke-width="1.8"/>
<path d="M1961.03,999.45 A9.1,9.1 0 0 1 1961.03,984.55" fill="none" stroke="#111" stroke-width="3.2"/>
<circle cx="1955.25" cy="992" r="1.2" fill="#111" stroke="#111" stroke-width="1.5"/>
<rect x="1979.5" y="1074.5" width="25.5" height="68" fill="none" stroke="#333" stroke-width="1.6"/>
<circle cx="1966.25" cy="1092.5" r="8.5" fill="none" stroke="#111" stroke-width="1.8"/>
<path d="M1961.03,1099.95 A9.1,9.1 0 0 1 1961.03,1085.05" fill="none" stroke="#111" stroke-width="3.2"/>
<circle cx="1955.25" cy="1092.5" r="1.2" fill="#111" stroke="#111" stroke-width="1.5"/>
<circle cx="1966.25" cy="1128.75" r="8.5" fill="none" stroke="#111" stroke-width="1.8"/>
<path d="M1961.03,1136.2 A9.1,9.1 0 0 1 1961.03,1121.3" fill="none" stroke="#111" stroke-width="3.2"/>
<circle cx="1955.25" cy="1128.75" r="1.2" fill="#111" stroke="#111" stroke-width="1.5"/>
<rect x="1979.5" y="1206.25" width="25.5" height="68" fill="none" stroke="#333" stroke-width="1.6"/>
<circle cx="1966.25" cy="1223.75" r="8.5" fill="none" stroke="#111" stroke-width="1.8"/>
<path d="M1961.03,1231.2 A9.1,9.1 0 0 1 1961.03,1216.3" fill="none" stroke="#111" stroke-width="3.2"/>
<circle cx="1955.25" cy="1223.75" r="1.2" fill="#111" stroke="#111" stroke-width="1.5"/>
<circle cx="1966.25" cy="1260" r="8.5" fill="none" stroke="#111" stroke-width="1.8"/>
<path d="M1961.03,1267.45 A9.1,9.1 0 0 1 1961.03,1252.55" fill="none" stroke="#111" stroke-width="3.2"/>
<circle cx="1955.25" cy="1260" r="1.2" fill="#111" stroke="#111" stroke-width="1.5"/>
<rect x="2074.5" y="937.5" width="25.5" height="68" fill="none" stroke="#333" stroke-width="1.6"/>
<circle cx="2062" cy="955" r="8.5" fill="none" stroke="#111" stroke-width="1.8"/>
<path d="M2056.78,962.45 A9.1,9.1 0 0 1 2056.78,947.55" fill="none" stroke="#111" stroke-width="3.2"/>
<circle cx="2051" cy="955" r="1.2" fill="#111" stroke="#111" stroke-width="1.5"/>
<circle cx="2062" cy="992" r="8.5" fill="none" stroke="#111" stroke-width="1.8"/>
<path d="M2056.78,999.45 A9.1,9.1 0 0 1 2056.78,984.55" fill="none" stroke="#111" stroke-width="3.2"/>
<circle cx="2051" cy="992" r="1.2" fill="#111" stroke="#111" stroke-width="1.5"/>
<rect x="2074.5" y="1074.5" width="25.5" height="68" fill="none" stroke="#333" stroke-width="1.6"/>
<circle cx="2062" cy="1092.5" r="8.5" fill="none" stroke="#111" stroke-width="1.8"/>
<path d="M2056.78,1099.95 A9.1,9.1 0 0 1 2056.78,1085.05" fill="none" stroke="#111" stroke-width="3.2"/>
<circle cx="2051" cy="1092.5" r="1.2" fill="#111" stroke="#111" stroke-width="1.5"/>
<circle cx="2062" cy="1128.75" r="8.5" fill="none" stroke="#111" stroke-width="1.8"/>
<path d="M2056.78,1136.2 A9.1,9.1 0 0 1 2056.78,1121.3" fill="none" stroke="#111" stroke-width="3.2"/>
<circle cx="2051" cy="1128.75" r="1.2" fill="#111" stroke="#111" stroke-width="1.5"/>
<rect x="2074.5" y="1206.25" width="25.5" height="68" fill="none" stroke="#333" stroke-width="1.6"/>
<circle cx="2062" cy="1223.75" r="8.5" fill="none" stroke="#111" stroke-width="1.8"/>
<path d="M2056.78,1231.2 A9.1,9.1 0 0 1 2056.78,1216.3" fill="none" stroke="#111" stroke-width="3.2"/>
<circle cx="2051" cy="1223.75" r="1.2" fill="#111" stroke="#111" stroke-width="1.5"/>
<circle cx="2062" cy="1260" r="8.5" fill="none" stroke="#111" stroke-width="1.8"/>
<path d="M2056.78,1267.45 A9.1,9.1 0 0 1 2056.78,1252.55" fill="none" stroke="#111" stroke-width="3.2"/>
<circle cx="2051" cy="1260" r="1.2" fill="#111" stroke="#111" stroke-width="1.5"/>
<rect x="1225.5" y="865.75" width="68.25" height="25.5" fill="none" stroke="#333" stroke-width="1.5"/>
<use href="#ochair" transform="translate(1260.25,907.9)"/>
<rect x="1145.75" y="1078.25" width="25.5" height="69.25" fill="none" stroke="#333" stroke-width="1.5"/>
<use href="#ochair" transform="translate(1186.25,1089.5) rotate(-75)"/>
<use href="#ochair" transform="translate(1187,1133.75) rotate(-105)"/>
<use href="#cchair" transform="translate(1219.12,1270.25)"/>
<use href="#cchair" transform="translate(1219.12,1352.25) rotate(180)"/>
<use href="#cchair" transform="translate(1197.75,1288.85) rotate(-90)"/>
<use href="#cchair" transform="translate(1240.5,1288.85) rotate(90)"/>
<use href="#cchair" transform="translate(1197.75,1311.25) rotate(-90)"/>
<use href="#cchair" transform="translate(1240.5,1311.25) rotate(90)"/>
<use href="#cchair" transform="translate(1197.75,1333.65) rotate(-90)"/>
<use href="#cchair" transform="translate(1240.5,1333.65) rotate(90)"/>
<rect x="1203.75" y="1276.25" width="30.75" height="70" rx="15.38" fill="#fff" stroke="#777" stroke-width="1.4"/>
<use href="#cchair" transform="translate(1695.38,1131.5)"/>
<use href="#cchair" transform="translate(1695.38,1212.25) rotate(180)"/>
<use href="#cchair" transform="translate(1673.5,1149.88) rotate(-90)"/>
<use href="#cchair" transform="translate(1717.25,1149.88) rotate(90)"/>
<use href="#cchair" transform="translate(1673.5,1171.88) rotate(-90)"/>
<use href="#cchair" transform="translate(1717.25,1171.88) rotate(90)"/>
<use href="#cchair" transform="translate(1673.5,1193.88) rotate(-90)"/>
<use href="#cchair" transform="translate(1717.25,1193.88) rotate(90)"/>
<rect x="1679.5" y="1137.5" width="31.75" height="68.75" rx="15.88" fill="#fff" stroke="#777" stroke-width="1.4"/>
<use href="#armchair" transform="translate(1358.75,883.1)"/>
<use href="#sofa" transform="translate(1325.6,934.4) scale(1,1)"/>
<rect x="1358" y="917.5" width="26.25" height="26.25" fill="none" stroke="#222" stroke-width="2"/>
<use href="#armchair" transform="translate(1556.1,883.1)"/>
<use href="#sofa" transform="translate(1589,934.4) scale(-1,1)"/>
<rect x="1530" y="917.5" width="26.25" height="26.25" fill="none" stroke="#222" stroke-width="2"/>
<use href="#armchair" transform="translate(1358.75,1447.1) rotate(180)"/>
<use href="#sofa" transform="translate(1325.6,1395.9) scale(1,1)"/>
<rect x="1358" y="1386.25" width="26.25" height="26.25" fill="none" stroke="#222" stroke-width="2"/>
<use href="#armchair" transform="translate(1556.1,1447.1) rotate(180)"/>
<use href="#sofa" transform="translate(1589,1395.9) scale(-1,1)"/>
<rect x="1530" y="1386.25" width="26.25" height="26.25" fill="none" stroke="#222" stroke-width="2"/>
<rect x="1385" y="1026.25" width="25" height="272" fill="none" stroke="#333" stroke-width="1.4"/>
<line x1="1385" y1="1094.5" x2="1410" y2="1094.5" stroke="#333" stroke-width="1.3"/>
<line x1="1385" y1="1162" x2="1410" y2="1162" stroke="#333" stroke-width="1.3"/>
<line x1="1385" y1="1230" x2="1410" y2="1230" stroke="#333" stroke-width="1.3"/>
<use href="#ochair" transform="translate(1376,1038.75) rotate(-90) scale(0.9)"/>
<use href="#ochair" transform="translate(1376,1106.25) rotate(-90) scale(0.9)"/>
<use href="#ochair" transform="translate(1376,1173.75) rotate(-90) scale(0.9)"/>
<use href="#ochair" transform="translate(1376,1241.25) rotate(-90) scale(0.9)"/>
<use href="#ochair" transform="translate(1419,1078.75) rotate(90) scale(0.9)"/>
<use href="#ochair" transform="translate(1419,1147.5) rotate(90) scale(0.9)"/>
<use href="#ochair" transform="translate(1419,1215) rotate(90) scale(0.9)"/>
<use href="#ochair" transform="translate(1419,1282.5) rotate(90) scale(0.9)"/>
<rect x="1510.5" y="1026.25" width="25" height="272" fill="none" stroke="#333" stroke-width="1.4"/>
<line x1="1510.5" y1="1094.5" x2="1535.5" y2="1094.5" stroke="#333" stroke-width="1.3"/>
<line x1="1510.5" y1="1162" x2="1535.5" y2="1162" stroke="#333" stroke-width="1.3"/>
<line x1="1510.5" y1="1230" x2="1535.5" y2="1230" stroke="#333" stroke-width="1.3"/>
<use href="#ochair" transform="translate(1501.5,1038.75) rotate(-90) scale(0.9)"/>
<use href="#ochair" transform="translate(1501.5,1106.25) rotate(-90) scale(0.9)"/>
<use href="#ochair" transform="translate(1501.5,1173.75) rotate(-90) scale(0.9)"/>
<use href="#ochair" transform="translate(1501.5,1241.25) rotate(-90) scale(0.9)"/>
<use href="#ochair" transform="translate(1544.5,1078.75) rotate(90) scale(0.9)"/>
<use href="#ochair" transform="translate(1544.5,1147.5) rotate(90) scale(0.9)"/>
<use href="#ochair" transform="translate(1544.5,1215) rotate(90) scale(0.9)"/>
<use href="#ochair" transform="translate(1544.5,1282.5) rotate(90) scale(0.9)"/>
<rect x="1745" y="960" width="25.75" height="68.25" fill="none" stroke="#333" stroke-width="1.5"/>
<use href="#ochair" transform="translate(1730,972.5) rotate(75)"/>
<use href="#ochair" transform="translate(1731.25,1017) rotate(105)"/>
<rect x="1746" y="1302.5" width="24" height="66.5" fill="none" stroke="#333" stroke-width="1.5"/>
<use href="#ochair" transform="translate(1730,1314) rotate(75)"/>
<use href="#ochair" transform="translate(1731,1358.5) rotate(105)"/>
<use href="#elev" transform="translate(744.5,676.25)"/>
<use href="#elev" transform="translate(2132.5,1650) rotate(180)"/>
<circle cx="632.5" cy="832.5" r="22.5" fill="none" stroke="#f00" stroke-width="1.3"/>
<text x="669.57" y="842.8" font-size="30" fill="#f00" text-anchor="start" textLength="35.87" lengthAdjust="spacing" transform="scale(0.92,1)">26</text>
<circle cx="635" cy="960" r="22.5" fill="none" stroke="#f00" stroke-width="1.3"/>
<text x="672.28" y="970.3" font-size="30" fill="#f00" text-anchor="start" textLength="35.87" lengthAdjust="spacing" transform="scale(0.92,1)">12</text>
<circle cx="805.75" cy="1088.75" r="22.5" fill="none" stroke="#f00" stroke-width="1.3"/>
<text x="857.88" y="1099.05" font-size="30" fill="#f00" text-anchor="start" textLength="35.87" lengthAdjust="spacing" transform="scale(0.92,1)">12</text>
<circle cx="977.5" cy="1088.75" r="22.5" fill="none" stroke="#f00" stroke-width="1.3"/>
<text x="977.5" y="1099.05" font-size="30" fill="#f00" text-anchor="middle">3</text>
<circle cx="980.75" cy="1162.5" r="20.5" fill="none" stroke="#f00" stroke-width="1.3"/>
<text x="980.75" y="1172.8" font-size="30" fill="#f00" text-anchor="middle">4</text>
<circle cx="805.75" cy="1236.75" r="22.5" fill="none" stroke="#111" stroke-width="1.3"/>
<text x="857.88" y="1247.05" font-size="30" fill="#f00" text-anchor="start" textLength="35.87" lengthAdjust="spacing" transform="scale(0.92,1)">12</text>
<circle cx="980.75" cy="1236.75" r="22.5" fill="none" stroke="#f00" stroke-width="1.3"/>
<text x="980.75" y="1247.05" font-size="30" fill="#f00" text-anchor="middle">5</text>
<circle cx="816" cy="1479" r="22.5" fill="none" stroke="#f00" stroke-width="1.3"/>
<text x="869.02" y="1489.3" font-size="30" fill="#f00" text-anchor="start" textLength="35.87" lengthAdjust="spacing" transform="scale(0.92,1)">28</text>
<circle cx="565.75" cy="1172.5" r="22.5" fill="none" stroke="#f00" stroke-width="1.3"/>
<text x="597.01" y="1182.8" font-size="30" fill="#f00" text-anchor="start" textLength="35.87" lengthAdjust="spacing" transform="scale(0.92,1)">27</text>
<circle cx="1526.5" cy="591.5" r="22.5" fill="none" stroke="#f00" stroke-width="1.3"/>
<text x="1641.3" y="601.8" font-size="30" fill="#f00" text-anchor="start" textLength="35.87" lengthAdjust="spacing" transform="scale(0.92,1)">31</text>
<circle cx="1694" cy="591.5" r="22.5" fill="none" stroke="#f00" stroke-width="1.3"/>
<text x="1823.37" y="601.8" font-size="30" fill="#f00" text-anchor="start" textLength="35.87" lengthAdjust="spacing" transform="scale(0.92,1)">30</text>
<circle cx="1527.5" cy="711.5" r="22.5" fill="none" stroke="#f00" stroke-width="1.3"/>
<text x="1642.39" y="721.8" font-size="30" fill="#f00" text-anchor="start" textLength="35.87" lengthAdjust="spacing" transform="scale(0.92,1)">12</text>
<circle cx="1686" cy="711.5" r="22.5" fill="none" stroke="#f00" stroke-width="1.3"/>
<text x="1814.67" y="721.8" font-size="30" fill="#f00" text-anchor="start" textLength="35.87" lengthAdjust="spacing" transform="scale(0.92,1)">12</text>
<circle cx="1959" cy="822.5" r="22.5" fill="none" stroke="#f00" stroke-width="1.3"/>
<text x="2111.41" y="832.8" font-size="30" fill="#f00" text-anchor="start" textLength="35.87" lengthAdjust="spacing" transform="scale(0.92,1)">12</text>
<circle cx="2111.5" cy="822.5" r="22.5" fill="none" stroke="#f00" stroke-width="1.3"/>
<text x="2277.17" y="832.8" font-size="30" fill="#f00" text-anchor="start" textLength="35.87" lengthAdjust="spacing" transform="scale(0.92,1)">29</text>
<circle cx="1220.75" cy="1020.75" r="22.5" fill="none" stroke="#f00" stroke-width="1.3"/>
<text x="1308.97" y="1031.05" font-size="30" fill="#f00" text-anchor="start" textLength="35.87" lengthAdjust="spacing" transform="scale(0.92,1)">11</text>
<circle cx="1218.75" cy="1215.75" r="22.5" fill="none" stroke="#f00" stroke-width="1.3"/>
<text x="1306.79" y="1226.05" font-size="30" fill="#f00" text-anchor="start" textLength="35.87" lengthAdjust="spacing" transform="scale(0.92,1)">11</text>
<circle cx="1686" cy="949" r="22.5" fill="none" stroke="#f00" stroke-width="1.3"/>
<text x="1814.67" y="959.3" font-size="30" fill="#f00" text-anchor="start" textLength="35.87" lengthAdjust="spacing" transform="scale(0.92,1)">11</text>
<circle cx="1686" cy="1089" r="22.5" fill="none" stroke="#f00" stroke-width="1.3"/>
<text x="1814.67" y="1099.3" font-size="30" fill="#f00" text-anchor="start" textLength="35.87" lengthAdjust="spacing" transform="scale(0.92,1)">11</text>
<circle cx="1681.5" cy="1355" r="22.5" fill="none" stroke="#f00" stroke-width="1.3"/>
<text x="1809.78" y="1365.3" font-size="30" fill="#f00" text-anchor="start" textLength="35.87" lengthAdjust="spacing" transform="scale(0.92,1)">11</text>
<circle cx="1457.5" cy="1175" r="22.5" fill="none" stroke="#f00" stroke-width="1.3"/>
<text x="1566.3" y="1185.3" font-size="30" fill="#f00" text-anchor="start" textLength="35.87" lengthAdjust="spacing" transform="scale(0.92,1)">18</text>
<path d="M133.3,1405.6 H259.3 M292,1405.6 H418 M451,1405.6 H577 M602,1405.6 H728 M760,1405.6 H886 M912.5,1405.6 H1038.5 M1065,1405.6 H1191 M1220.2,1405.6 H1346.2 M1373.1,1405.6 H1499.1 M1526,1405.6 H1652 M1680.7,1405.6 H1806.7 M1833,1405.6 H1959 M1984.2,1405.6 H2110.2 M2133,1405.6 H2259 M2277.3,1405.6 H2403.3 M2430.3,1405.6 H2554.6" stroke="#333" stroke-width="2.4"/>
<polygon points="52.2,1406.5 92.2,1366.1 132.2,1406.5" fill="#000" stroke="none" stroke-width="0"/>
<circle cx="92.2" cy="1406.5" r="27.6" fill="#fff" stroke="#333" stroke-width="2"/>
<line x1="52.2" y1="1406.5" x2="119.8" y2="1406.5" stroke="#444" stroke-width="2"/>
<polygon points="2554.8,1406.5 2594.8,1366.1 2634.8,1406.5" fill="#000" stroke="none" stroke-width="0"/>
<circle cx="2594.8" cy="1406.5" r="27.6" fill="#fff" stroke="#333" stroke-width="2"/>
<line x1="2554.8" y1="1406.5" x2="2622.4" y2="1406.5" stroke="#444" stroke-width="2"/>
<polyline points="3287.5,765 3287.5,502 4790,502 4790,1561.5" fill="none" stroke="#111" stroke-width="2.6"/>
<line x1="4785" y1="506" x2="4785" y2="1556.5" stroke="#222" stroke-width="1.5"/>
<line x1="3673.5" y1="506" x2="4785" y2="506" stroke="#222" stroke-width="1.5"/>
<polyline points="4403.5,1561.5 2876.5,1561.5 2876.5,765 3287.5,765" fill="none" stroke="#333" stroke-width="2.0"/>
<polyline points="4403.5,1556.5 2881.5,1556.5 2881.5,769 3287.5,769" fill="none" stroke="#222" stroke-width="1.5"/>
<polyline points="3287.5,769 3287.5,798.5 2910.5,798.5 2910.5,1527.5 3287.5,1527.5 3287.5,1556.5" fill="none" stroke="#222" stroke-width="1.8"/>
<line x1="3673.5" y1="502" x2="3673.5" y2="765" stroke="#111" stroke-width="2.6"/>
<polyline points="3673.5,765 3703.5,765 3703.5,535 4755,535 4755,765 4785,765" fill="none" stroke="#222" stroke-width="1.8"/>
<line x1="3287.5" y1="764" x2="3302.5" y2="764" stroke="#111" stroke-width="2.6"/>
<line x1="3332.5" y1="764" x2="3630" y2="764" stroke="#111" stroke-width="2.6"/>
<line x1="3658.5" y1="764" x2="3673.5" y2="764" stroke="#111" stroke-width="2.6"/>
<path d="M3332.5,764 A30,30 0 0 1 3302.5,794 L3302.5,764" fill="none" stroke="#111" stroke-width="1.8"/>
<path d="M3629.5,764 A29,29 0 0 0 3658.5,793 L3658.5,764" fill="none" stroke="#111" stroke-width="1.8"/>
<polyline points="4403.5,1561.5 4403.5,1823.5 4789,1823.5 4789,1561.5" fill="none" stroke="#111" stroke-width="2.6"/>
<line x1="4403.5" y1="1561.5" x2="4417.5" y2="1561.5" stroke="#111" stroke-width="2.6"/>
<line x1="4447.5" y1="1561.5" x2="4746" y2="1561.5" stroke="#111" stroke-width="2.6"/>
<line x1="4775" y1="1561.5" x2="4790" y2="1561.5" stroke="#111" stroke-width="2.6"/>
<path d="M4447.5,1561.5 A30,30 0 0 0 4417.5,1531.5 L4417.5,1561.5" fill="none" stroke="#111" stroke-width="1.8"/>
<path d="M4746,1561.5 A29,29 0 0 1 4775,1532.5 L4775,1561.5" fill="none" stroke="#111" stroke-width="1.8"/>
<use href="#elev" transform="translate(3345.3,676.5)"/>
<use href="#elev" transform="translate(4731.5,1650) rotate(180)"/>
<rect x="3345" y="855.5" width="1352.5" height="614" fill="none" stroke="#222" stroke-width="1.8"/>
<rect x="3351" y="861" width="1341.5" height="603" fill="none" stroke="#222" stroke-width="1.6"/>
<use href="#shrub" transform="translate(2896.5,787.5)"/>
<use href="#shrub" transform="translate(2935,783.5)"/>
<use href="#shrub" transform="translate(2978.5,783.5)"/>
<use href="#shrub" transform="translate(3021,783.5)"/>
<use href="#shrub" transform="translate(3063.5,783.5)"/>
<use href="#shrub" transform="translate(3105,783.5)"/>
<use href="#shrub" transform="translate(3148.5,783.5)"/>
<use href="#shrub" transform="translate(3191,783.5)"/>
<use href="#shrub" transform="translate(3230,783.5)"/>
<use href="#shrub" transform="translate(3266,783.5)"/>
<use href="#shrub" transform="translate(2896.5,830)"/>
<use href="#shrub" transform="translate(2896.5,877.5)"/>
<use href="#shrub" transform="translate(2896.5,917.5)"/>
<use href="#shrub" transform="translate(2896.5,962.5)"/>
<use href="#shrub" transform="translate(2896.5,1004)"/>
<use href="#shrub" transform="translate(2896.5,1050)"/>
<use href="#shrub" transform="translate(2896.5,1102.5)"/>
<use href="#shrub" transform="translate(2896.5,1156)"/>
<use href="#shrub" transform="translate(2896.5,1200)"/>
<use href="#shrub" transform="translate(2896.5,1250)"/>
<use href="#shrub" transform="translate(2896.5,1303.5)"/>
<use href="#shrub" transform="translate(2896.5,1356)"/>
<use href="#shrub" transform="translate(2896.5,1405)"/>
<use href="#shrub" transform="translate(2896.5,1449)"/>
<use href="#shrub" transform="translate(2896.5,1497.5)"/>
<use href="#shrub" transform="translate(2896.5,1541.5)"/>
<use href="#shrub" transform="translate(2937.5,1541.5)"/>
<use href="#shrub" transform="translate(2981.5,1541.5)"/>
<use href="#shrub" transform="translate(3024,1541.5)"/>
<use href="#shrub" transform="translate(3066,1541.5)"/>
<use href="#shrub" transform="translate(3107.5,1541.5)"/>
<use href="#shrub" transform="translate(3151.5,1541.5)"/>
<use href="#shrub" transform="translate(3194,1541.5)"/>
<use href="#shrub" transform="translate(3232.5,1541.5)"/>
<use href="#shrub" transform="translate(3269,1541.5)"/>
<use href="#shrub" transform="translate(3690,520)"/>
<use href="#shrub" transform="translate(3729,520)"/>
<use href="#shrub" transform="translate(3771,520)"/>
<use href="#shrub" transform="translate(3810,520)"/>
<use href="#shrub" transform="translate(3852.5,520)"/>
<use href="#shrub" transform="translate(3893.5,520)"/>
<use href="#shrub" transform="translate(3936,520)"/>
<use href="#shrub" transform="translate(3980,520)"/>
<use href="#shrub" transform="translate(4024,520)"/>
<use href="#shrub" transform="translate(4071,520)"/>
<use href="#shrub" transform="translate(4116,520)"/>
<use href="#shrub" transform="translate(4159,520)"/>
<use href="#shrub" transform="translate(4201,520)"/>
<use href="#shrub" transform="translate(4242.5,520)"/>
<use href="#shrub" transform="translate(4283.5,520)"/>
<use href="#shrub" transform="translate(4331.5,520)"/>
<use href="#shrub" transform="translate(4375,520)"/>
<use href="#shrub" transform="translate(4420,520)"/>
<use href="#shrub" transform="translate(4464,520)"/>
<use href="#shrub" transform="translate(4508.5,520)"/>
<use href="#shrub" transform="translate(4552.5,520)"/>
<use href="#shrub" transform="translate(4595,520)"/>
<use href="#shrub" transform="translate(4637.5,520)"/>
<use href="#shrub" transform="translate(4686,520)"/>
<use href="#shrub" transform="translate(4728.5,520)"/>
<use href="#shrub" transform="translate(4768.5,520)"/>
<use href="#shrub" transform="translate(3690,556)"/>
<use href="#shrub" transform="translate(3690,593.5)"/>
<use href="#shrub" transform="translate(3690,633.5)"/>
<use href="#shrub" transform="translate(3690,674)"/>
<use href="#shrub" transform="translate(3690,712.5)"/>
<use href="#shrub" transform="translate(3690,746.5)"/>
<use href="#shrub" transform="translate(4770,556.5)"/>
<use href="#shrub" transform="translate(4770,594)"/>
<use href="#shrub" transform="translate(4770,634)"/>
<use href="#shrub" transform="translate(4770,674)"/>
<use href="#shrub" transform="translate(4770,712.5)"/>
<use href="#shrub" transform="translate(4770,746.5)"/>
<rect x="2988.7" y="1021.7" width="221.5" height="29.7" fill="none" stroke="#222" stroke-width="1.8"/>
<use href="#flower" transform="translate(3007.2,1037.1)"/>
<use href="#flower" transform="translate(3037.9,1037.1)"/>
<use href="#flower" transform="translate(3068.6,1037.1)"/>
<use href="#flower" transform="translate(3099.3,1037.1)"/>
<use href="#flower" transform="translate(3130,1037.1)"/>
<use href="#flower" transform="translate(3160.7,1037.1)"/>
<use href="#flower" transform="translate(3191.4,1037.1)"/>
<rect x="2988.7" y="1274" width="221.5" height="29.7" fill="none" stroke="#222" stroke-width="1.8"/>
<use href="#flower" transform="translate(3007.2,1289.4)"/>
<use href="#flower" transform="translate(3037.9,1289.4)"/>
<use href="#flower" transform="translate(3068.6,1289.4)"/>
<use href="#flower" transform="translate(3099.3,1289.4)"/>
<use href="#flower" transform="translate(3130,1289.4)"/>
<use href="#flower" transform="translate(3160.7,1289.4)"/>
<use href="#flower" transform="translate(3191.4,1289.4)"/>
<rect x="3944" y="575" width="29.5" height="190" fill="none" stroke="#222" stroke-width="1.8"/>
<use href="#flower" transform="translate(3958.75,590)"/>
<use href="#flower" transform="translate(3958.75,615)"/>
<use href="#flower" transform="translate(3958.75,641.5)"/>
<use href="#flower" transform="translate(3958.75,670)"/>
<use href="#flower" transform="translate(3958.75,698.5)"/>
<use href="#flower" transform="translate(3958.75,724)"/>
<use href="#flower" transform="translate(3958.75,750)"/>
<rect x="4214" y="575" width="29.5" height="190" fill="none" stroke="#222" stroke-width="1.8"/>
<use href="#flower" transform="translate(4228.75,590)"/>
<use href="#flower" transform="translate(4228.75,615)"/>
<use href="#flower" transform="translate(4228.75,641.5)"/>
<use href="#flower" transform="translate(4228.75,670)"/>
<use href="#flower" transform="translate(4228.75,698.5)"/>
<use href="#flower" transform="translate(4228.75,724)"/>
<use href="#flower" transform="translate(4228.75,750)"/>
<rect x="4485" y="575" width="29.5" height="190" fill="none" stroke="#222" stroke-width="1.8"/>
<use href="#flower" transform="translate(4499.75,590)"/>
<use href="#flower" transform="translate(4499.75,615)"/>
<use href="#flower" transform="translate(4499.75,641.5)"/>
<use href="#flower" transform="translate(4499.75,670)"/>
<use href="#flower" transform="translate(4499.75,698.5)"/>
<use href="#flower" transform="translate(4499.75,724)"/>
<use href="#flower" transform="translate(4499.75,750)"/>
<path d="M3020,894 V843.5 H3178.5 V894 H3153.5 V868 H3045 V894 Z" fill="none" stroke="#222" stroke-width="1.8"/>
<path d="M3020,926 H3045 V952.5 H3153.5 V926 H3178.5 V976.5 H3020 Z" fill="none" stroke="#222" stroke-width="1.8"/>
<rect x="3073.5" y="896.5" width="51.5" height="27" fill="none" stroke="#222" stroke-width="1.8"/>
<path d="M3020,1145.5 V1095 H3178.5 V1145.5 H3153.5 V1119.5 H3045 V1145.5 Z" fill="none" stroke="#222" stroke-width="1.8"/>
<path d="M3020,1177.5 H3045 V1204 H3153.5 V1177.5 H3178.5 V1228 H3020 Z" fill="none" stroke="#222" stroke-width="1.8"/>
<rect x="3073.5" y="1148" width="51.5" height="27" fill="none" stroke="#222" stroke-width="1.8"/>
<path d="M3020,1399.5 V1349 H3178.5 V1399.5 H3153.5 V1373.5 H3045 V1399.5 Z" fill="none" stroke="#222" stroke-width="1.8"/>
<path d="M3020,1431.5 H3045 V1458 H3153.5 V1431.5 H3178.5 V1482 H3020 Z" fill="none" stroke="#222" stroke-width="1.8"/>
<rect x="3073.5" y="1402" width="51.5" height="27" fill="none" stroke="#222" stroke-width="1.8"/>
<path d="M3808.5,607.5 H3757.5 V765 H3808.5 V741 H3782.5 V632.5 H3808.5 Z" fill="none" stroke="#222" stroke-width="1.8"/>
<path d="M3841,607.5 H3891 V765 H3841 V741 H3867 V632.5 H3841 Z" fill="none" stroke="#222" stroke-width="1.8"/>
<rect x="3812" y="661" width="26.5" height="50.5" fill="none" stroke="#222" stroke-width="1.8"/>
<path d="M4077.5,607.5 H4026.5 V765 H4077.5 V741 H4051.5 V632.5 H4077.5 Z" fill="none" stroke="#222" stroke-width="1.8"/>
<path d="M4110,607.5 H4160 V765 H4110 V741 H4136 V632.5 H4110 Z" fill="none" stroke="#222" stroke-width="1.8"/>
<rect x="4081" y="661" width="26.5" height="50.5" fill="none" stroke="#222" stroke-width="1.8"/>
<path d="M4348.5,607.5 H4297.5 V765 H4348.5 V741 H4322.5 V632.5 H4348.5 Z" fill="none" stroke="#222" stroke-width="1.8"/>
<path d="M4381,607.5 H4431 V765 H4381 V741 H4407 V632.5 H4381 Z" fill="none" stroke="#222" stroke-width="1.8"/>
<rect x="4352" y="661" width="26.5" height="50.5" fill="none" stroke="#222" stroke-width="1.8"/>
<path d="M4619,607.5 H4568 V765 H4619 V741 H4593 V632.5 H4619 Z" fill="none" stroke="#222" stroke-width="1.8"/>
<path d="M4651.5,607.5 H4701.5 V765 H4651.5 V741 H4677.5 V632.5 H4651.5 Z" fill="none" stroke="#222" stroke-width="1.8"/>
<rect x="4622.5" y="661" width="26.5" height="50.5" fill="none" stroke="#222" stroke-width="1.8"/>
<polygon points="-3.8,-7.25 3.8,-7.25 9.5,-2.9 9.5,2.9 3.8,7.25 -3.8,7.25 -9.5,2.9 -9.5,-2.9" transform="translate(3451.5,872.1) rotate(33.24)" fill="none" stroke="#c2c2c2" stroke-width="1.6"/>
<polygon points="-5.7,-10.75 5.7,-10.75 14.25,-4.3 14.25,4.3 5.7,10.75 -5.7,10.75 -14.25,4.3 -14.25,-4.3" transform="translate(3469.3,894.3) rotate(-3.59)" fill="none" stroke="#c2c2c2" stroke-width="1.6"/>
<polygon points="-5.7,-10.75 5.7,-10.75 14.25,-4.3 14.25,4.3 5.7,10.75 -5.7,10.75 -14.25,4.3 -14.25,-4.3" transform="translate(3503.3,903.1) rotate(4.41)" fill="none" stroke="#c2c2c2" stroke-width="1.6"/>
<polygon points="-1.8,-7.5 1.8,-7.5 4.5,-3 4.5,3 1.8,7.5 -1.8,7.5 -4.5,3 -4.5,-3" transform="translate(3467.8,872.3) rotate(-26.28)" fill="none" stroke="#c2c2c2" stroke-width="1.6"/>
<polygon points="-3.8,-7.25 3.8,-7.25 9.5,-2.9 9.5,2.9 3.8,7.25 -3.8,7.25 -9.5,2.9 -9.5,-2.9" transform="translate(3484.5,878.8) rotate(35.36)" fill="none" stroke="#c2c2c2" stroke-width="1.6"/>
<polygon points="-1.8,-7.5 1.8,-7.5 4.5,-3 4.5,3 1.8,7.5 -1.8,7.5 -4.5,3 -4.5,-3" transform="translate(3501.1,880.3) rotate(-23.34)" fill="none" stroke="#c2c2c2" stroke-width="1.6"/>
<polygon points="-3.8,-7.25 3.8,-7.25 9.5,-2.9 9.5,2.9 3.8,7.25 -3.8,7.25 -9.5,2.9 -9.5,-2.9" transform="translate(3518,886.3) rotate(30.58)" fill="none" stroke="#c2c2c2" stroke-width="1.6"/>
<polygon points="-5.7,-10.75 5.7,-10.75 14.25,-4.3 14.25,4.3 5.7,10.75 -5.7,10.75 -14.25,4.3 -14.25,-4.3" transform="translate(3528.4,927.2) rotate(2.12)" fill="none" stroke="#c2c2c2" stroke-width="1.6"/>
<polygon points="-5.7,-10.75 5.7,-10.75 14.25,-4.3 14.25,4.3 5.7,10.75 -5.7,10.75 -14.25,4.3 -14.25,-4.3" transform="translate(3562.4,936) rotate(-5.4)" fill="none" stroke="#c2c2c2" stroke-width="1.6"/>
<polygon points="-1.8,-7.5 1.8,-7.5 4.5,-3 4.5,3 1.8,7.5 -1.8,7.5 -4.5,3 -4.5,-3" transform="translate(3526.9,905.2) rotate(-22.66)" fill="none" stroke="#c2c2c2" stroke-width="1.6"/>
<polygon points="-3.8,-7.25 3.8,-7.25 9.5,-2.9 9.5,2.9 3.8,7.25 -3.8,7.25 -9.5,2.9 -9.5,-2.9" transform="translate(3543.6,911.7) rotate(30.7)" fill="none" stroke="#c2c2c2" stroke-width="1.6"/>
<polygon points="-1.8,-7.5 1.8,-7.5 4.5,-3 4.5,3 1.8,7.5 -1.8,7.5 -4.5,3 -4.5,-3" transform="translate(3560.2,913.2) rotate(-26.09)" fill="none" stroke="#c2c2c2" stroke-width="1.6"/>
<polygon points="-3.8,-7.25 3.8,-7.25 9.5,-2.9 9.5,2.9 3.8,7.25 -3.8,7.25 -9.5,2.9 -9.5,-2.9" transform="translate(3577.1,919.2) rotate(34.25)" fill="none" stroke="#c2c2c2" stroke-width="1.6"/>
<polygon points="-5.7,-10.75 5.7,-10.75 14.25,-4.3 14.25,4.3 5.7,10.75 -5.7,10.75 -14.25,4.3 -14.25,-4.3" transform="translate(3587.5,960.1) rotate(7.23)" fill="none" stroke="#c2c2c2" stroke-width="1.6"/>
<polygon points="-5.7,-10.75 5.7,-10.75 14.25,-4.3 14.25,4.3 5.7,10.75 -5.7,10.75 -14.25,4.3 -14.25,-4.3" transform="translate(3621.5,968.9) rotate(-4.02)" fill="none" stroke="#c2c2c2" stroke-width="1.6"/>
<polygon points="-1.8,-7.5 1.8,-7.5 4.5,-3 4.5,3 1.8,7.5 -1.8,7.5 -4.5,3 -4.5,-3" transform="translate(3586,938.1) rotate(-24.77)" fill="none" stroke="#c2c2c2" stroke-width="1.6"/>
<polygon points="-3.8,-7.25 3.8,-7.25 9.5,-2.9 9.5,2.9 3.8,7.25 -3.8,7.25 -9.5,2.9 -9.5,-2.9" transform="translate(3602.7,944.6) rotate(36.27)" fill="none" stroke="#c2c2c2" stroke-width="1.6"/>
<polygon points="-1.8,-7.5 1.8,-7.5 4.5,-3 4.5,3 1.8,7.5 -1.8,7.5 -4.5,3 -4.5,-3" transform="translate(3619.3,946.1) rotate(-17.52)" fill="none" stroke="#c2c2c2" stroke-width="1.6"/>
<polygon points="-3.8,-7.25 3.8,-7.25 9.5,-2.9 9.5,2.9 3.8,7.25 -3.8,7.25 -9.5,2.9 -9.5,-2.9" transform="translate(3636.2,952.1) rotate(35.77)" fill="none" stroke="#c2c2c2" stroke-width="1.6"/>
<polygon points="-5.7,-10.75 5.7,-10.75 14.25,-4.3 14.25,4.3 5.7,10.75 -5.7,10.75 -14.25,4.3 -14.25,-4.3" transform="translate(3646.6,993) rotate(0.35)" fill="none" stroke="#c2c2c2" stroke-width="1.6"/>
<polygon points="-5.7,-10.75 5.7,-10.75 14.25,-4.3 14.25,4.3 5.7,10.75 -5.7,10.75 -14.25,4.3 -14.25,-4.3" transform="translate(3680.6,1001.8) rotate(9.62)" fill="none" stroke="#c2c2c2" stroke-width="1.6"/>
<polygon points="-1.8,-7.5 1.8,-7.5 4.5,-3 4.5,3 1.8,7.5 -1.8,7.5 -4.5,3 -4.5,-3" transform="translate(3645.1,971) rotate(-26.53)" fill="none" stroke="#c2c2c2" stroke-width="1.6"/>
<polygon points="-3.8,-7.25 3.8,-7.25 9.5,-2.9 9.5,2.9 3.8,7.25 -3.8,7.25 -9.5,2.9 -9.5,-2.9" transform="translate(3661.8,977.5) rotate(38.58)" fill="none" stroke="#c2c2c2" stroke-width="1.6"/>
<polygon points="-1.8,-7.5 1.8,-7.5 4.5,-3 4.5,3 1.8,7.5 -1.8,7.5 -4.5,3 -4.5,-3" transform="translate(3678.4,979) rotate(-24.1)" fill="none" stroke="#c2c2c2" stroke-width="1.6"/>
<polygon points="-3.8,-7.25 3.8,-7.25 9.5,-2.9 9.5,2.9 3.8,7.25 -3.8,7.25 -9.5,2.9 -9.5,-2.9" transform="translate(3695.3,985) rotate(31.44)" fill="none" stroke="#c2c2c2" stroke-width="1.6"/>
<polygon points="-5.7,-10.75 5.7,-10.75 14.25,-4.3 14.25,4.3 5.7,10.75 -5.7,10.75 -14.25,4.3 -14.25,-4.3" transform="translate(3705.7,1025.9) rotate(-4.12)" fill="none" stroke="#c2c2c2" stroke-width="1.6"/>
<polygon points="-5.7,-10.75 5.7,-10.75 14.25,-4.3 14.25,4.3 5.7,10.75 -5.7,10.75 -14.25,4.3 -14.25,-4.3" transform="translate(3739.7,1034.7) rotate(-1.06)" fill="none" stroke="#c2c2c2" stroke-width="1.6"/>
<polygon points="-1.8,-7.5 1.8,-7.5 4.5,-3 4.5,3 1.8,7.5 -1.8,7.5 -4.5,3 -4.5,-3" transform="translate(3704.2,1003.9) rotate(-18.84)" fill="none" stroke="#c2c2c2" stroke-width="1.6"/>
<polygon points="-3.8,-7.25 3.8,-7.25 9.5,-2.9 9.5,2.9 3.8,7.25 -3.8,7.25 -9.5,2.9 -9.5,-2.9" transform="translate(3720.9,1010.4) rotate(31.81)" fill="none" stroke="#c2c2c2" stroke-width="1.6"/>
<polygon points="-1.8,-7.5 1.8,-7.5 4.5,-3 4.5,3 1.8,7.5 -1.8,7.5 -4.5,3 -4.5,-3" transform="translate(3737.5,1011.9) rotate(-21.18)" fill="none" stroke="#c2c2c2" stroke-width="1.6"/>
<polygon points="-3.8,-7.25 3.8,-7.25 9.5,-2.9 9.5,2.9 3.8,7.25 -3.8,7.25 -9.5,2.9 -9.5,-2.9" transform="translate(3754.4,1017.9) rotate(36.39)" fill="none" stroke="#c2c2c2" stroke-width="1.6"/>
<polygon points="-5.7,-10.75 5.7,-10.75 14.25,-4.3 14.25,4.3 5.7,10.75 -5.7,10.75 -14.25,4.3 -14.25,-4.3" transform="translate(3764.8,1058.8) rotate(-0.04)" fill="none" stroke="#c2c2c2" stroke-width="1.6"/>
<polygon points="-5.7,-10.75 5.7,-10.75 14.25,-4.3 14.25,4.3 5.7,10.75 -5.7,10.75 -14.25,4.3 -14.25,-4.3" transform="translate(3798.8,1067.6) rotate(2.76)" fill="none" stroke="#c2c2c2" stroke-width="1.6"/>
<polygon points="-1.8,-7.5 1.8,-7.5 4.5,-3 4.5,3 1.8,7.5 -1.8,7.5 -4.5,3 -4.5,-3" transform="translate(3763.3,1036.8) rotate(-26.37)" fill="none" stroke="#c2c2c2" stroke-width="1.6"/>
<polygon points="-3.8,-7.25 3.8,-7.25 9.5,-2.9 9.5,2.9 3.8,7.25 -3.8,7.25 -9.5,2.9 -9.5,-2.9" transform="translate(3780,1043.3) rotate(30.6)" fill="none" stroke="#c2c2c2" stroke-width="1.6"/>
<polygon points="-1.8,-7.5 1.8,-7.5 4.5,-3 4.5,3 1.8,7.5 -1.8,7.5 -4.5,3 -4.5,-3" transform="translate(3796.6,1044.8) rotate(-24.94)" fill="none" stroke="#c2c2c2" stroke-width="1.6"/>
<polygon points="-3.8,-7.25 3.8,-7.25 9.5,-2.9 9.5,2.9 3.8,7.25 -3.8,7.25 -9.5,2.9 -9.5,-2.9" transform="translate(3813.5,1050.8) rotate(36.8)" fill="none" stroke="#c2c2c2" stroke-width="1.6"/>
<polygon points="-5.7,-10.75 5.7,-10.75 14.25,-4.3 14.25,4.3 5.7,10.75 -5.7,10.75 -14.25,4.3 -14.25,-4.3" transform="translate(3823.9,1091.7) rotate(0.84)" fill="none" stroke="#c2c2c2" stroke-width="1.6"/>
<polygon points="-5.7,-10.75 5.7,-10.75 14.25,-4.3 14.25,4.3 5.7,10.75 -5.7,10.75 -14.25,4.3 -14.25,-4.3" transform="translate(3857.9,1100.5) rotate(-0.97)" fill="none" stroke="#c2c2c2" stroke-width="1.6"/>
<polygon points="-1.8,-7.5 1.8,-7.5 4.5,-3 4.5,3 1.8,7.5 -1.8,7.5 -4.5,3 -4.5,-3" transform="translate(3822.4,1069.7) rotate(-21.14)" fill="none" stroke="#c2c2c2" stroke-width="1.6"/>
<polygon points="-3.8,-7.25 3.8,-7.25 9.5,-2.9 9.5,2.9 3.8,7.25 -3.8,7.25 -9.5,2.9 -9.5,-2.9" transform="translate(3839.1,1076.2) rotate(34.53)" fill="none" stroke="#c2c2c2" stroke-width="1.6"/>
<polygon points="-1.8,-7.5 1.8,-7.5 4.5,-3 4.5,3 1.8,7.5 -1.8,7.5 -4.5,3 -4.5,-3" transform="translate(3855.7,1077.7) rotate(-24)" fill="none" stroke="#c2c2c2" stroke-width="1.6"/>
<polygon points="-3.8,-7.25 3.8,-7.25 9.5,-2.9 9.5,2.9 3.8,7.25 -3.8,7.25 -9.5,2.9 -9.5,-2.9" transform="translate(3872.6,1083.7) rotate(37.94)" fill="none" stroke="#c2c2c2" stroke-width="1.6"/>
<polygon points="-5.7,-10.75 5.7,-10.75 14.25,-4.3 14.25,4.3 5.7,10.75 -5.7,10.75 -14.25,4.3 -14.25,-4.3" transform="translate(3883,1124.6) rotate(5.18)" fill="none" stroke="#c2c2c2" stroke-width="1.6"/>
<polygon points="-1.8,-7.5 1.8,-7.5 4.5,-3 4.5,3 1.8,7.5 -1.8,7.5 -4.5,3 -4.5,-3" transform="translate(3881.5,1102.6) rotate(-24.56)" fill="none" stroke="#c2c2c2" stroke-width="1.6"/>
<polygon points="-3.8,-7.25 3.8,-7.25 9.5,-2.9 9.5,2.9 3.8,7.25 -3.8,7.25 -9.5,2.9 -9.5,-2.9" transform="translate(3898.2,1109.1) rotate(35.74)" fill="none" stroke="#c2c2c2" stroke-width="1.6"/>
<polygon points="-1.8,-7.5 1.8,-7.5 4.5,-3 4.5,3 1.8,7.5 -1.8,7.5 -4.5,3 -4.5,-3" transform="translate(3914.8,1110.6) rotate(-21.75)" fill="none" stroke="#c2c2c2" stroke-width="1.6"/>
<polygon points="-5.7,-10.75 5.7,-10.75 14.25,-4.3 14.25,4.3 5.7,10.75 -5.7,10.75 -14.25,4.3 -14.25,-4.3" transform="translate(4152.2,1157.6) rotate(8)" fill="none" stroke="#c2c2c2" stroke-width="1.6"/>
<polygon points="-1.8,-7.5 1.8,-7.5 4.5,-3 4.5,3 1.8,7.5 -1.8,7.5 -4.5,3 -4.5,-3" transform="translate(4153.9,1179.6) rotate(-19.71)" fill="none" stroke="#c2c2c2" stroke-width="1.6"/>
<polygon points="-5.7,-10.75 5.7,-10.75 14.25,-4.3 14.25,4.3 5.7,10.75 -5.7,10.75 -14.25,4.3 -14.25,-4.3" transform="translate(4175.2,1183) rotate(-1.39)" fill="none" stroke="#c2c2c2" stroke-width="1.6"/>
<polygon points="-5.7,-10.75 5.7,-10.75 14.25,-4.3 14.25,4.3 5.7,10.75 -5.7,10.75 -14.25,4.3 -14.25,-4.3" transform="translate(4208.2,1189.3) rotate(9.68)" fill="none" stroke="#c2c2c2" stroke-width="1.6"/>
<polygon points="-5.7,-10.75 5.7,-10.75 14.25,-4.3 14.25,4.3 5.7,10.75 -5.7,10.75 -14.25,4.3 -14.25,-4.3" transform="translate(4234.2,1215) rotate(-4.11)" fill="none" stroke="#c2c2c2" stroke-width="1.6"/>
<polygon points="-3.8,-7.25 3.8,-7.25 9.5,-2.9 9.5,2.9 3.8,7.25 -3.8,7.25 -9.5,2.9 -9.5,-2.9" transform="translate(4159.7,1199.5) rotate(34.18)" fill="none" stroke="#c2c2c2" stroke-width="1.6"/>
<polygon points="-1.8,-7.5 1.8,-7.5 4.5,-3 4.5,3 1.8,7.5 -1.8,7.5 -4.5,3 -4.5,-3" transform="translate(4177.4,1205) rotate(-19.43)" fill="none" stroke="#c2c2c2" stroke-width="1.6"/>
<polygon points="-3.8,-7.25 3.8,-7.25 9.5,-2.9 9.5,2.9 3.8,7.25 -3.8,7.25 -9.5,2.9 -9.5,-2.9" transform="translate(4195,1205) rotate(31.52)" fill="none" stroke="#c2c2c2" stroke-width="1.6"/>
<polygon points="-1.8,-7.5 1.8,-7.5 4.5,-3 4.5,3 1.8,7.5 -1.8,7.5 -4.5,3 -4.5,-3" transform="translate(4210.5,1211.7) rotate(-22.11)" fill="none" stroke="#c2c2c2" stroke-width="1.6"/>
<polygon points="-3.8,-7.25 3.8,-7.25 9.5,-2.9 9.5,2.9 3.8,7.25 -3.8,7.25 -9.5,2.9 -9.5,-2.9" transform="translate(4219.3,1230.4) rotate(30.39)" fill="none" stroke="#c2c2c2" stroke-width="1.6"/>
<polygon points="-1.8,-7.5 1.8,-7.5 4.5,-3 4.5,3 1.8,7.5 -1.8,7.5 -4.5,3 -4.5,-3" transform="translate(4235.9,1237) rotate(-20.32)" fill="none" stroke="#c2c2c2" stroke-width="1.6"/>
<polygon points="-5.7,-10.75 5.7,-10.75 14.25,-4.3 14.25,4.3 5.7,10.75 -5.7,10.75 -14.25,4.3 -14.25,-4.3" transform="translate(4257.2,1240.4) rotate(6.23)" fill="none" stroke="#c2c2c2" stroke-width="1.6"/>
<polygon points="-5.7,-10.75 5.7,-10.75 14.25,-4.3 14.25,4.3 5.7,10.75 -5.7,10.75 -14.25,4.3 -14.25,-4.3" transform="translate(4290.2,1246.7) rotate(3.17)" fill="none" stroke="#c2c2c2" stroke-width="1.6"/>
<polygon points="-5.7,-10.75 5.7,-10.75 14.25,-4.3 14.25,4.3 5.7,10.75 -5.7,10.75 -14.25,4.3 -14.25,-4.3" transform="translate(4316.2,1272.4) rotate(8.01)" fill="none" stroke="#c2c2c2" stroke-width="1.6"/>
<polygon points="-3.8,-7.25 3.8,-7.25 9.5,-2.9 9.5,2.9 3.8,7.25 -3.8,7.25 -9.5,2.9 -9.5,-2.9" transform="translate(4241.7,1256.9) rotate(33.14)" fill="none" stroke="#c2c2c2" stroke-width="1.6"/>
<polygon points="-1.8,-7.5 1.8,-7.5 4.5,-3 4.5,3 1.8,7.5 -1.8,7.5 -4.5,3 -4.5,-3" transform="translate(4259.4,1262.4) rotate(-20.05)" fill="none" stroke="#c2c2c2" stroke-width="1.6"/>
<polygon points="-3.8,-7.25 3.8,-7.25 9.5,-2.9 9.5,2.9 3.8,7.25 -3.8,7.25 -9.5,2.9 -9.5,-2.9" transform="translate(4277,1262.4) rotate(35.94)" fill="none" stroke="#c2c2c2" stroke-width="1.6"/>
<polygon points="-1.8,-7.5 1.8,-7.5 4.5,-3 4.5,3 1.8,7.5 -1.8,7.5 -4.5,3 -4.5,-3" transform="translate(4292.5,1269.1) rotate(-21.2)" fill="none" stroke="#c2c2c2" stroke-width="1.6"/>
<polygon points="-3.8,-7.25 3.8,-7.25 9.5,-2.9 9.5,2.9 3.8,7.25 -3.8,7.25 -9.5,2.9 -9.5,-2.9" transform="translate(4301.3,1287.8) rotate(34.56)" fill="none" stroke="#c2c2c2" stroke-width="1.6"/>
<polygon points="-1.8,-7.5 1.8,-7.5 4.5,-3 4.5,3 1.8,7.5 -1.8,7.5 -4.5,3 -4.5,-3" transform="translate(4317.9,1294.4) rotate(-18.6)" fill="none" stroke="#c2c2c2" stroke-width="1.6"/>
<polygon points="-5.7,-10.75 5.7,-10.75 14.25,-4.3 14.25,4.3 5.7,10.75 -5.7,10.75 -14.25,4.3 -14.25,-4.3" transform="translate(4339.2,1297.8) rotate(9.11)" fill="none" stroke="#c2c2c2" stroke-width="1.6"/>
<polygon points="-5.7,-10.75 5.7,-10.75 14.25,-4.3 14.25,4.3 5.7,10.75 -5.7,10.75 -14.25,4.3 -14.25,-4.3" transform="translate(4372.2,1304.1) rotate(1.59)" fill="none" stroke="#c2c2c2" stroke-width="1.6"/>
<polygon points="-5.7,-10.75 5.7,-10.75 14.25,-4.3 14.25,4.3 5.7,10.75 -5.7,10.75 -14.25,4.3 -14.25,-4.3" transform="translate(4398.2,1329.8) rotate(4.63)" fill="none" stroke="#c2c2c2" stroke-width="1.6"/>
<polygon points="-3.8,-7.25 3.8,-7.25 9.5,-2.9 9.5,2.9 3.8,7.25 -3.8,7.25 -9.5,2.9 -9.5,-2.9" transform="translate(4323.7,1314.3) rotate(30.61)" fill="none" stroke="#c2c2c2" stroke-width="1.6"/>
<polygon points="-1.8,-7.5 1.8,-7.5 4.5,-3 4.5,3 1.8,7.5 -1.8,7.5 -4.5,3 -4.5,-3" transform="translate(4341.4,1319.8) rotate(-19.99)" fill="none" stroke="#c2c2c2" stroke-width="1.6"/>
<polygon points="-3.8,-7.25 3.8,-7.25 9.5,-2.9 9.5,2.9 3.8,7.25 -3.8,7.25 -9.5,2.9 -9.5,-2.9" transform="translate(4359,1319.8) rotate(36.47)" fill="none" stroke="#c2c2c2" stroke-width="1.6"/>
<polygon points="-1.8,-7.5 1.8,-7.5 4.5,-3 4.5,3 1.8,7.5 -1.8,7.5 -4.5,3 -4.5,-3" transform="translate(4374.5,1326.5) rotate(-17.07)" fill="none" stroke="#c2c2c2" stroke-width="1.6"/>
<polygon points="-3.8,-7.25 3.8,-7.25 9.5,-2.9 9.5,2.9 3.8,7.25 -3.8,7.25 -9.5,2.9 -9.5,-2.9" transform="translate(4383.3,1345.2) rotate(38.22)" fill="none" stroke="#c2c2c2" stroke-width="1.6"/>
<polygon points="-1.8,-7.5 1.8,-7.5 4.5,-3 4.5,3 1.8,7.5 -1.8,7.5 -4.5,3 -4.5,-3" transform="translate(4399.9,1351.8) rotate(-24.15)" fill="none" stroke="#c2c2c2" stroke-width="1.6"/>
<polygon points="-5.7,-10.75 5.7,-10.75 14.25,-4.3 14.25,4.3 5.7,10.75 -5.7,10.75 -14.25,4.3 -14.25,-4.3" transform="translate(4421.2,1355.2) rotate(0.17)" fill="none" stroke="#c2c2c2" stroke-width="1.6"/>
<polygon points="-5.7,-10.75 5.7,-10.75 14.25,-4.3 14.25,4.3 5.7,10.75 -5.7,10.75 -14.25,4.3 -14.25,-4.3" transform="translate(4454.2,1361.5) rotate(4.7)" fill="none" stroke="#c2c2c2" stroke-width="1.6"/>
<polygon points="-5.7,-10.75 5.7,-10.75 14.25,-4.3 14.25,4.3 5.7,10.75 -5.7,10.75 -14.25,4.3 -14.25,-4.3" transform="translate(4480.2,1387.2) rotate(-5.64)" fill="none" stroke="#c2c2c2" stroke-width="1.6"/>
<polygon points="-3.8,-7.25 3.8,-7.25 9.5,-2.9 9.5,2.9 3.8,7.25 -3.8,7.25 -9.5,2.9 -9.5,-2.9" transform="translate(4405.7,1371.7) rotate(34.62)" fill="none" stroke="#c2c2c2" stroke-width="1.6"/>
<polygon points="-1.8,-7.5 1.8,-7.5 4.5,-3 4.5,3 1.8,7.5 -1.8,7.5 -4.5,3 -4.5,-3" transform="translate(4423.4,1377.2) rotate(-25.32)" fill="none" stroke="#c2c2c2" stroke-width="1.6"/>
<polygon points="-3.8,-7.25 3.8,-7.25 9.5,-2.9 9.5,2.9 3.8,7.25 -3.8,7.25 -9.5,2.9 -9.5,-2.9" transform="translate(4441,1377.2) rotate(31.17)" fill="none" stroke="#c2c2c2" stroke-width="1.6"/>
<polygon points="-1.8,-7.5 1.8,-7.5 4.5,-3 4.5,3 1.8,7.5 -1.8,7.5 -4.5,3 -4.5,-3" transform="translate(4456.5,1383.9) rotate(-26.41)" fill="none" stroke="#c2c2c2" stroke-width="1.6"/>
<polygon points="-3.8,-7.25 3.8,-7.25 9.5,-2.9 9.5,2.9 3.8,7.25 -3.8,7.25 -9.5,2.9 -9.5,-2.9" transform="translate(4465.3,1402.6) rotate(37.68)" fill="none" stroke="#c2c2c2" stroke-width="1.6"/>
<polygon points="-1.8,-7.5 1.8,-7.5 4.5,-3 4.5,3 1.8,7.5 -1.8,7.5 -4.5,3 -4.5,-3" transform="translate(4481.9,1409.2) rotate(-25.71)" fill="none" stroke="#c2c2c2" stroke-width="1.6"/>
<polygon points="-5.7,-10.75 5.7,-10.75 14.25,-4.3 14.25,4.3 5.7,10.75 -5.7,10.75 -14.25,4.3 -14.25,-4.3" transform="translate(4503.2,1412.6) rotate(-2.04)" fill="none" stroke="#c2c2c2" stroke-width="1.6"/>
<polygon points="-5.7,-10.75 5.7,-10.75 14.25,-4.3 14.25,4.3 5.7,10.75 -5.7,10.75 -14.25,4.3 -14.25,-4.3" transform="translate(4536.2,1418.9) rotate(0.26)" fill="none" stroke="#c2c2c2" stroke-width="1.6"/>
<polygon points="-5.7,-10.75 5.7,-10.75 14.25,-4.3 14.25,4.3 5.7,10.75 -5.7,10.75 -14.25,4.3 -14.25,-4.3" transform="translate(4562.2,1444.6) rotate(7.94)" fill="none" stroke="#c2c2c2" stroke-width="1.6"/>
<polygon points="-3.8,-7.25 3.8,-7.25 9.5,-2.9 9.5,2.9 3.8,7.25 -3.8,7.25 -9.5,2.9 -9.5,-2.9" transform="translate(4487.7,1429.1) rotate(30.81)" fill="none" stroke="#c2c2c2" stroke-width="1.6"/>
<polygon points="-1.8,-7.5 1.8,-7.5 4.5,-3 4.5,3 1.8,7.5 -1.8,7.5 -4.5,3 -4.5,-3" transform="translate(4505.4,1434.6) rotate(-22.51)" fill="none" stroke="#c2c2c2" stroke-width="1.6"/>
<polygon points="-3.8,-7.25 3.8,-7.25 9.5,-2.9 9.5,2.9 3.8,7.25 -3.8,7.25 -9.5,2.9 -9.5,-2.9" transform="translate(4523,1434.6) rotate(35.49)" fill="none" stroke="#c2c2c2" stroke-width="1.6"/>
<polygon points="-1.8,-7.5 1.8,-7.5 4.5,-3 4.5,3 1.8,7.5 -1.8,7.5 -4.5,3 -4.5,-3" transform="translate(4538.5,1441.3) rotate(-18.17)" fill="none" stroke="#c2c2c2" stroke-width="1.6"/>
<clipPath id="octc"><polygon points="3975.1,1050 4068.3,1050 4134.2,1115.9 4134.2,1209.1 4068.3,1275 3975.1,1275 3909.2,1209.1 3909.2,1115.9"/></clipPath>
<g clip-path="url(#octc)"><polygon points="-4.44,-9.46 4.44,-9.46 11.1,-3.78 11.1,3.78 4.44,9.46 -4.44,9.46 -11.1,3.78 -11.1,-3.78" transform="translate(3899.2,1045) rotate(11.14)" fill="none" stroke="#c6c6c6" stroke-width="1.3"/><polygon points="-3.63,-7.44 3.63,-7.44 9.08,-2.97 9.08,2.97 3.63,7.44 -3.63,7.44 -9.08,2.97 -9.08,-2.97" transform="translate(3921.2,1045) rotate(35.37)" fill="none" stroke="#c6c6c6" stroke-width="1.3"/><polygon points="-4.72,-6.6 4.72,-6.6 11.79,-2.64 11.79,2.64 4.72,6.6 -4.72,6.6 -11.79,2.64 -11.79,-2.64" transform="translate(3943.2,1045) rotate(7.05)" fill="none" stroke="#c6c6c6" stroke-width="1.3"/><polygon points="-3.26,-6.93 3.26,-6.93 8.16,-2.77 8.16,2.77 3.26,6.93 -3.26,6.93 -8.16,2.77 -8.16,-2.77" transform="translate(3965.2,1045) rotate(19.4)" fill="none" stroke="#c6c6c6" stroke-width="1.3"/><polygon points="-3.98,-7.05 3.98,-7.05 9.95,-2.82 9.95,2.82 3.98,7.05 -3.98,7.05 -9.95,2.82 -9.95,-2.82" transform="translate(3987.2,1045) rotate(0.16)" fill="none" stroke="#c6c6c6" stroke-width="1.3"/><polygon points="-3.64,-7.48 3.64,-7.48 9.09,-2.99 9.09,2.99 3.64,7.48 -3.64,7.48 -9.09,2.99 -9.09,-2.99" transform="translate(4009.2,1045) rotate(22.65)" fill="none" stroke="#c6c6c6" stroke-width="1.3"/><polygon points="-4.71,-8.76 4.71,-8.76 11.77,-3.5 11.77,3.5 4.71,8.76 -4.71,8.76 -11.77,3.5 -11.77,-3.5" transform="translate(4031.2,1045) rotate(20.62)" fill="none" stroke="#c6c6c6" stroke-width="1.3"/><polygon points="-4.04,-8.7 4.04,-8.7 10.09,-3.48 10.09,3.48 4.04,8.7 -4.04,8.7 -10.09,3.48 -10.09,-3.48" transform="translate(4053.2,1045) rotate(2.16)" fill="none" stroke="#c6c6c6" stroke-width="1.3"/><polygon points="-4.6,-9.12 4.6,-9.12 11.5,-3.65 11.5,3.65 4.6,9.12 -4.6,9.12 -11.5,3.65 -11.5,-3.65" transform="translate(4075.2,1045) rotate(34.98)" fill="none" stroke="#c6c6c6" stroke-width="1.3"/><polygon points="-4.4,-7.57 4.4,-7.57 10.99,-3.03 10.99,3.03 4.4,7.57 -4.4,7.57 -10.99,3.03 -10.99,-3.03" transform="translate(4097.2,1045) rotate(15.96)" fill="none" stroke="#c6c6c6" stroke-width="1.3"/><polygon points="-3.01,-8.54 3.01,-8.54 7.52,-3.41 7.52,3.41 3.01,8.54 -3.01,8.54 -7.52,3.41 -7.52,-3.41" transform="translate(4119.2,1045) rotate(2.49)" fill="none" stroke="#c6c6c6" stroke-width="1.3"/><polygon points="-2.93,-6.84 2.93,-6.84 7.34,-2.73 7.34,2.73 2.93,6.84 -2.93,6.84 -7.34,2.73 -7.34,-2.73" transform="translate(4141.2,1045) rotate(6.49)" fill="none" stroke="#c6c6c6" stroke-width="1.3"/><polygon points="-3.48,-6.21 3.48,-6.21 8.7,-2.48 8.7,2.48 3.48,6.21 -3.48,6.21 -8.7,2.48 -8.7,-2.48" transform="translate(3910.2,1062) rotate(0.01)" fill="none" stroke="#c6c6c6" stroke-width="1.3"/><polygon points="-3.1,-6.41 3.1,-6.41 7.76,-2.56 7.76,2.56 3.1,6.41 -3.1,6.41 -7.76,2.56 -7.76,-2.56" transform="translate(3932.2,1062) rotate(14.54)" fill="none" stroke="#c6c6c6" stroke-width="1.3"/><polygon points="-2.85,-9.5 2.85,-9.5 7.13,-3.8 7.13,3.8 2.85,9.5 -2.85,9.5 -7.13,3.8 -7.13,-3.8" transform="translate(3954.2,1062) rotate(24.56)" fill="none" stroke="#c6c6c6" stroke-width="1.3"/><polygon points="-3.1,-7.01 3.1,-7.01 7.74,-2.8 7.74,2.8 3.1,7.01 -3.1,7.01 -7.74,2.8 -7.74,-2.8" transform="translate(3976.2,1062) rotate(13.9)" fill="none" stroke="#c6c6c6" stroke-width="1.3"/><polygon points="-3.53,-6.49 3.53,-6.49 8.82,-2.6 8.82,2.6 3.53,6.49 -3.53,6.49 -8.82,2.6 -8.82,-2.6" transform="translate(3998.2,1062) rotate(33.96)" fill="none" stroke="#c6c6c6" stroke-width="1.3"/><polygon points="-4.79,-7.86 4.79,-7.86 11.97,-3.15 11.97,3.15 4.79,7.86 -4.79,7.86 -11.97,3.15 -11.97,-3.15" transform="translate(4020.2,1062) rotate(19.35)" fill="none" stroke="#c6c6c6" stroke-width="1.3"/><polygon points="-2.97,-6.41 2.97,-6.41 7.43,-2.56 7.43,2.56 2.97,6.41 -2.97,6.41 -7.43,2.56 -7.43,-2.56" transform="translate(4042.2,1062) rotate(13.71)" fill="none" stroke="#c6c6c6" stroke-width="1.3"/><polygon points="-3.33,-9.32 3.33,-9.32 8.32,-3.73 8.32,3.73 3.33,9.32 -3.33,9.32 -8.32,3.73 -8.32,-3.73" transform="translate(4064.2,1062) rotate(6.46)" fill="none" stroke="#c6c6c6" stroke-width="1.3"/><polygon points="-2.85,-9.8 2.85,-9.8 7.12,-3.92 7.12,3.92 2.85,9.8 -2.85,9.8 -7.12,3.92 -7.12,-3.92" transform="translate(4086.2,1062) rotate(21.13)" fill="none" stroke="#c6c6c6" stroke-width="1.3"/><polygon points="-3.09,-8.17 3.09,-8.17 7.73,-3.27 7.73,3.27 3.09,8.17 -3.09,8.17 -7.73,3.27 -7.73,-3.27" transform="translate(4108.2,1062) rotate(1.08)" fill="none" stroke="#c6c6c6" stroke-width="1.3"/><polygon points="-3.86,-9.91 3.86,-9.91 9.64,-3.97 9.64,3.97 3.86,9.91 -3.86,9.91 -9.64,3.97 -9.64,-3.97" transform="translate(4130.2,1062) rotate(34.53)" fill="none" stroke="#c6c6c6" stroke-width="1.3"/><polygon points="-4.19,-7.04 4.19,-7.04 10.48,-2.82 10.48,2.82 4.19,7.04 -4.19,7.04 -10.48,2.82 -10.48,-2.82" transform="translate(3899.2,1079) rotate(14.67)" fill="none" stroke="#c6c6c6" stroke-width="1.3"/><polygon points="-3.13,-9.09 3.13,-9.09 7.84,-3.64 7.84,3.64 3.13,9.09 -3.13,9.09 -7.84,3.64 -7.84,-3.64" transform="translate(3921.2,1079) rotate(21.3)" fill="none" stroke="#c6c6c6" stroke-width="1.3"/><polygon points="-4.36,-7.32 4.36,-7.32 10.9,-2.93 10.9,2.93 4.36,7.32 -4.36,7.32 -10.9,2.93 -10.9,-2.93" transform="translate(3943.2,1079) rotate(8.92)" fill="none" stroke="#c6c6c6" stroke-width="1.3"/><polygon points="-4.42,-9.94 4.42,-9.94 11.06,-3.98 11.06,3.98 4.42,9.94 -4.42,9.94 -11.06,3.98 -11.06,-3.98" transform="translate(3965.2,1079) rotate(34.11)" fill="none" stroke="#c6c6c6" stroke-width="1.3"/><polygon points="-4.41,-9.27 4.41,-9.27 11.03,-3.71 11.03,3.71 4.41,9.27 -4.41,9.27 -11.03,3.71 -11.03,-3.71" transform="translate(3987.2,1079) rotate(29.59)" fill="none" stroke="#c6c6c6" stroke-width="1.3"/><polygon points="-3.25,-8.07 3.25,-8.07 8.13,-3.23 8.13,3.23 3.25,8.07 -3.25,8.07 -8.13,3.23 -8.13,-3.23" transform="translate(4009.2,1079) rotate(14.22)" fill="none" stroke="#c6c6c6" stroke-width="1.3"/><polygon points="-2.86,-6.11 2.86,-6.11 7.14,-2.44 7.14,2.44 2.86,6.11 -2.86,6.11 -7.14,2.44 -7.14,-2.44" transform="translate(4031.2,1079) rotate(11.18)" fill="none" stroke="#c6c6c6" stroke-width="1.3"/><polygon points="-3.32,-8.77 3.32,-8.77 8.3,-3.51 8.3,3.51 3.32,8.77 -3.32,8.77 -8.3,3.51 -8.3,-3.51" transform="translate(4053.2,1079) rotate(38.26)" fill="none" stroke="#c6c6c6" stroke-width="1.3"/><polygon points="-3.69,-9.75 3.69,-9.75 9.24,-3.9 9.24,3.9 3.69,9.75 -3.69,9.75 -9.24,3.9 -9.24,-3.9" transform="translate(4075.2,1079) rotate(39.52)" fill="none" stroke="#c6c6c6" stroke-width="1.3"/><polygon points="-4.71,-7.46 4.71,-7.46 11.78,-2.98 11.78,2.98 4.71,7.46 -4.71,7.46 -11.78,2.98 -11.78,-2.98" transform="translate(4097.2,1079) rotate(8.82)" fill="none" stroke="#c6c6c6" stroke-width="1.3"/><polygon points="-3.25,-6.79 3.25,-6.79 8.13,-2.71 8.13,2.71 3.25,6.79 -3.25,6.79 -8.13,2.71 -8.13,-2.71" transform="translate(4119.2,1079) rotate(8.17)" fill="none" stroke="#c6c6c6" stroke-width="1.3"/><polygon points="-4.05,-9.6 4.05,-9.6 10.12,-3.84 10.12,3.84 4.05,9.6 -4.05,9.6 -10.12,3.84 -10.12,-3.84" transform="translate(4141.2,1079) rotate(33.62)" fill="none" stroke="#c6c6c6" stroke-width="1.3"/><polygon points="-3.76,-8.61 3.76,-8.61 9.4,-3.44 9.4,3.44 3.76,8.61 -3.76,8.61 -9.4,3.44 -9.4,-3.44" transform="translate(3910.2,1096) rotate(31.99)" fill="none" stroke="#c6c6c6" stroke-width="1.3"/><polygon points="-2.97,-8.64 2.97,-8.64 7.42,-3.46 7.42,3.46 2.97,8.64 -2.97,8.64 -7.42,3.46 -7.42,-3.46" transform="translate(3932.2,1096) rotate(36.39)" fill="none" stroke="#c6c6c6" stroke-width="1.3"/><polygon points="-4.36,-9 4.36,-9 10.91,-3.6 10.91,3.6 4.36,9 -4.36,9 -10.91,3.6 -10.91,-3.6" transform="translate(3954.2,1096) rotate(19.12)" fill="none" stroke="#c6c6c6" stroke-width="1.3"/><polygon points="-3.16,-9.16 3.16,-9.16 7.89,-3.66 7.89,3.66 3.16,9.16 -3.16,9.16 -7.89,3.66 -7.89,-3.66" transform="translate(3976.2,1096) rotate(13.3)" fill="none" stroke="#c6c6c6" stroke-width="1.3"/><polygon points="-4.4,-9.89 4.4,-9.89 11,-3.95 11,3.95 4.4,9.89 -4.4,9.89 -11,3.95 -11,-3.95" transform="translate(3998.2,1096) rotate(15.83)" fill="none" stroke="#c6c6c6" stroke-width="1.3"/><polygon points="-3.6,-9.79 3.6,-9.79 9.01,-3.91 9.01,3.91 3.6,9.79 -3.6,9.79 -9.01,3.91 -9.01,-3.91" transform="translate(4020.2,1096) rotate(28.99)" fill="none" stroke="#c6c6c6" stroke-width="1.3"/><polygon points="-3.14,-6.51 3.14,-6.51 7.85,-2.6 7.85,2.6 3.14,6.51 -3.14,6.51 -7.85,2.6 -7.85,-2.6" transform="translate(4042.2,1096) rotate(6.05)" fill="none" stroke="#c6c6c6" stroke-width="1.3"/><polygon points="-4.61,-9.23 4.61,-9.23 11.52,-3.69 11.52,3.69 4.61,9.23 -4.61,9.23 -11.52,3.69 -11.52,-3.69" transform="translate(4064.2,1096) rotate(5.85)" fill="none" stroke="#c6c6c6" stroke-width="1.3"/><polygon points="-4.45,-9.92 4.45,-9.92 11.13,-3.97 11.13,3.97 4.45,9.92 -4.45,9.92 -11.13,3.97 -11.13,-3.97" transform="translate(4086.2,1096) rotate(26.29)" fill="none" stroke="#c6c6c6" stroke-width="1.3"/><polygon points="-3.5,-8.19 3.5,-8.19 8.75,-3.28 8.75,3.28 3.5,8.19 -3.5,8.19 -8.75,3.28 -8.75,-3.28" transform="translate(4108.2,1096) rotate(5.24)" fill="none" stroke="#c6c6c6" stroke-width="1.3"/><polygon points="-2.83,-9.88 2.83,-9.88 7.07,-3.95 7.07,3.95 2.83,9.88 -2.83,9.88 -7.07,3.95 -7.07,-3.95" transform="translate(4130.2,1096) rotate(25.99)" fill="none" stroke="#c6c6c6" stroke-width="1.3"/><polygon points="-3.85,-9.73 3.85,-9.73 9.63,-3.89 9.63,3.89 3.85,9.73 -3.85,9.73 -9.63,3.89 -9.63,-3.89" transform="translate(3899.2,1113) rotate(17.35)" fill="none" stroke="#c6c6c6" stroke-width="1.3"/><polygon points="-4.54,-9.3 4.54,-9.3 11.36,-3.72 11.36,3.72 4.54,9.3 -4.54,9.3 -11.36,3.72 -11.36,-3.72" transform="translate(3921.2,1113) rotate(8.44)" fill="none" stroke="#c6c6c6" stroke-width="1.3"/><polygon points="-3.3,-7.17 3.3,-7.17 8.26,-2.87 8.26,2.87 3.3,7.17 -3.3,7.17 -8.26,2.87 -8.26,-2.87" transform="translate(3943.2,1113) rotate(9.62)" fill="none" stroke="#c6c6c6" stroke-width="1.3"/><polygon points="-3.97,-7.04 3.97,-7.04 9.93,-2.81 9.93,2.81 3.97,7.04 -3.97,7.04 -9.93,2.81 -9.93,-2.81" transform="translate(3965.2,1113) rotate(16.76)" fill="none" stroke="#c6c6c6" stroke-width="1.3"/><polygon points="-3.06,-9.64 3.06,-9.64 7.66,-3.86 7.66,3.86 3.06,9.64 -3.06,9.64 -7.66,3.86 -7.66,-3.86" transform="translate(3987.2,1113) rotate(14.15)" fill="none" stroke="#c6c6c6" stroke-width="1.3"/><polygon points="-3.72,-8.33 3.72,-8.33 9.29,-3.33 9.29,3.33 3.72,8.33 -3.72,8.33 -9.29,3.33 -9.29,-3.33" transform="translate(4009.2,1113) rotate(36.17)" fill="none" stroke="#c6c6c6" stroke-width="1.3"/><polygon points="-3.64,-9.67 3.64,-9.67 9.1,-3.87 9.1,3.87 3.64,9.67 -3.64,9.67 -9.1,3.87 -9.1,-3.87" transform="translate(4031.2,1113) rotate(20.07)" fill="none" stroke="#c6c6c6" stroke-width="1.3"/><polygon points="-3.86,-8.09 3.86,-8.09 9.66,-3.24 9.66,3.24 3.86,8.09 -3.86,8.09 -9.66,3.24 -9.66,-3.24" transform="translate(4053.2,1113) rotate(0.75)" fill="none" stroke="#c6c6c6" stroke-width="1.3"/><polygon points="-3.68,-6.73 3.68,-6.73 9.2,-2.69 9.2,2.69 3.68,6.73 -3.68,6.73 -9.2,2.69 -9.2,-2.69" transform="translate(4075.2,1113) rotate(0.16)" fill="none" stroke="#c6c6c6" stroke-width="1.3"/><polygon points="-4.4,-6.69 4.4,-6.69 11,-2.68 11,2.68 4.4,6.69 -4.4,6.69 -11,2.68 -11,-2.68" transform="translate(4097.2,1113) rotate(18.94)" fill="none" stroke="#c6c6c6" stroke-width="1.3"/><polygon points="-4.25,-8.23 4.25,-8.23 10.63,-3.29 10.63,3.29 4.25,8.23 -4.25,8.23 -10.63,3.29 -10.63,-3.29" transform="translate(4119.2,1113) rotate(13.04)" fill="none" stroke="#c6c6c6" stroke-width="1.3"/><polygon points="-3.84,-8.22 3.84,-8.22 9.59,-3.29 9.59,3.29 3.84,8.22 -3.84,8.22 -9.59,3.29 -9.59,-3.29" transform="translate(4141.2,1113) rotate(31.37)" fill="none" stroke="#c6c6c6" stroke-width="1.3"/><polygon points="-3.01,-8.24 3.01,-8.24 7.53,-3.3 7.53,3.3 3.01,8.24 -3.01,8.24 -7.53,3.3 -7.53,-3.3" transform="translate(3910.2,1130) rotate(9.94)" fill="none" stroke="#c6c6c6" stroke-width="1.3"/><polygon points="-3.35,-9.09 3.35,-9.09 8.38,-3.64 8.38,3.64 3.35,9.09 -3.35,9.09 -8.38,3.64 -8.38,-3.64" transform="translate(3932.2,1130) rotate(20.31)" fill="none" stroke="#c6c6c6" stroke-width="1.3"/><polygon points="-3.92,-9.04 3.92,-9.04 9.81,-3.62 9.81,3.62 3.92,9.04 -3.92,9.04 -9.81,3.62 -9.81,-3.62" transform="translate(3954.2,1130) rotate(36.5)" fill="none" stroke="#c6c6c6" stroke-width="1.3"/><polygon points="-3.69,-8.45 3.69,-8.45 9.22,-3.38 9.22,3.38 3.69,8.45 -3.69,8.45 -9.22,3.38 -9.22,-3.38" transform="translate(3976.2,1130) rotate(20.22)" fill="none" stroke="#c6c6c6" stroke-width="1.3"/><polygon points="-3.82,-8.77 3.82,-8.77 9.56,-3.51 9.56,3.51 3.82,8.77 -3.82,8.77 -9.56,3.51 -9.56,-3.51" transform="translate(3998.2,1130) rotate(18.09)" fill="none" stroke="#c6c6c6" stroke-width="1.3"/><polygon points="-3.87,-7.91 3.87,-7.91 9.67,-3.16 9.67,3.16 3.87,7.91 -3.87,7.91 -9.67,3.16 -9.67,-3.16" transform="translate(4020.2,1130) rotate(37.66)" fill="none" stroke="#c6c6c6" stroke-width="1.3"/><polygon points="-4.2,-9.51 4.2,-9.51 10.5,-3.8 10.5,3.8 4.2,9.51 -4.2,9.51 -10.5,3.8 -10.5,-3.8" transform="translate(4042.2,1130) rotate(37.69)" fill="none" stroke="#c6c6c6" stroke-width="1.3"/><polygon points="-3.32,-8.24 3.32,-8.24 8.3,-3.3 8.3,3.3 3.32,8.24 -3.32,8.24 -8.3,3.3 -8.3,-3.3" transform="translate(4064.2,1130) rotate(37.73)" fill="none" stroke="#c6c6c6" stroke-width="1.3"/><polygon points="-4.48,-6.55 4.48,-6.55 11.2,-2.62 11.2,2.62 4.48,6.55 -4.48,6.55 -11.2,2.62 -11.2,-2.62" transform="translate(4086.2,1130) rotate(4.86)" fill="none" stroke="#c6c6c6" stroke-width="1.3"/><polygon points="-3.68,-6.29 3.68,-6.29 9.21,-2.52 9.21,2.52 3.68,6.29 -3.68,6.29 -9.21,2.52 -9.21,-2.52" transform="translate(4108.2,1130) rotate(9.63)" fill="none" stroke="#c6c6c6" stroke-width="1.3"/><polygon points="-2.95,-8.68 2.95,-8.68 7.37,-3.47 7.37,3.47 2.95,8.68 -2.95,8.68 -7.37,3.47 -7.37,-3.47" transform="translate(4130.2,1130) rotate(31.36)" fill="none" stroke="#c6c6c6" stroke-width="1.3"/><polygon points="-4.59,-6.62 4.59,-6.62 11.49,-2.65 11.49,2.65 4.59,6.62 -4.59,6.62 -11.49,2.65 -11.49,-2.65" transform="translate(3899.2,1147) rotate(28.64)" fill="none" stroke="#c6c6c6" stroke-width="1.3"/><polygon points="-4.12,-6.57 4.12,-6.57 10.3,-2.63 10.3,2.63 4.12,6.57 -4.12,6.57 -10.3,2.63 -10.3,-2.63" transform="translate(3921.2,1147) rotate(35.31)" fill="none" stroke="#c6c6c6" stroke-width="1.3"/><polygon points="-4.74,-6.88 4.74,-6.88 11.84,-2.75 11.84,2.75 4.74,6.88 -4.74,6.88 -11.84,2.75 -11.84,-2.75" transform="translate(3943.2,1147) rotate(38.1)" fill="none" stroke="#c6c6c6" stroke-width="1.3"/><polygon points="-3.6,-7.95 3.6,-7.95 8.99,-3.18 8.99,3.18 3.6,7.95 -3.6,7.95 -8.99,3.18 -8.99,-3.18" transform="translate(3965.2,1147) rotate(39.59)" fill="none" stroke="#c6c6c6" stroke-width="1.3"/><polygon points="-4.46,-6.65 4.46,-6.65 11.16,-2.66 11.16,2.66 4.46,6.65 -4.46,6.65 -11.16,2.66 -11.16,-2.66" transform="translate(3987.2,1147) rotate(17.26)" fill="none" stroke="#c6c6c6" stroke-width="1.3"/><polygon points="-3.83,-7.36 3.83,-7.36 9.58,-2.94 9.58,2.94 3.83,7.36 -3.83,7.36 -9.58,2.94 -9.58,-2.94" transform="translate(4009.2,1147) rotate(7.83)" fill="none" stroke="#c6c6c6" stroke-width="1.3"/><polygon points="-3.44,-8.89 3.44,-8.89 8.59,-3.56 8.59,3.56 3.44,8.89 -3.44,8.89 -8.59,3.56 -8.59,-3.56" transform="translate(4031.2,1147) rotate(0.78)" fill="none" stroke="#c6c6c6" stroke-width="1.3"/><polygon points="-3.91,-7.76 3.91,-7.76 9.77,-3.1 9.77,3.1 3.91,7.76 -3.91,7.76 -9.77,3.1 -9.77,-3.1" transform="translate(4053.2,1147) rotate(0.72)" fill="none" stroke="#c6c6c6" stroke-width="1.3"/><polygon points="-3.46,-8.5 3.46,-8.5 8.66,-3.4 8.66,3.4 3.46,8.5 -3.46,8.5 -8.66,3.4 -8.66,-3.4" transform="translate(4075.2,1147) rotate(20.49)" fill="none" stroke="#c6c6c6" stroke-width="1.3"/><polygon points="-2.93,-9.94 2.93,-9.94 7.32,-3.98 7.32,3.98 2.93,9.94 -2.93,9.94 -7.32,3.98 -7.32,-3.98" transform="translate(4097.2,1147) rotate(31.53)" fill="none" stroke="#c6c6c6" stroke-width="1.3"/><polygon points="-4.74,-6.42 4.74,-6.42 11.86,-2.57 11.86,2.57 4.74,6.42 -4.74,6.42 -11.86,2.57 -11.86,-2.57" transform="translate(4119.2,1147) rotate(10.62)" fill="none" stroke="#c6c6c6" stroke-width="1.3"/><polygon points="-2.88,-9.12 2.88,-9.12 7.2,-3.65 7.2,3.65 2.88,9.12 -2.88,9.12 -7.2,3.65 -7.2,-3.65" transform="translate(4141.2,1147) rotate(10.82)" fill="none" stroke="#c6c6c6" stroke-width="1.3"/><polygon points="-3.06,-7.69 3.06,-7.69 7.65,-3.08 7.65,3.08 3.06,7.69 -3.06,7.69 -7.65,3.08 -7.65,-3.08" transform="translate(3910.2,1164) rotate(36.46)" fill="none" stroke="#c6c6c6" stroke-width="1.3"/><polygon points="-4.44,-7.03 4.44,-7.03 11.09,-2.81 11.09,2.81 4.44,7.03 -4.44,7.03 -11.09,2.81 -11.09,-2.81" transform="translate(3932.2,1164) rotate(5.97)" fill="none" stroke="#c6c6c6" stroke-width="1.3"/><polygon points="-4.64,-8.28 4.64,-8.28 11.6,-3.31 11.6,3.31 4.64,8.28 -4.64,8.28 -11.6,3.31 -11.6,-3.31" transform="translate(3954.2,1164) rotate(28.02)" fill="none" stroke="#c6c6c6" stroke-width="1.3"/><polygon points="-2.98,-6.23 2.98,-6.23 7.45,-2.49 7.45,2.49 2.98,6.23 -2.98,6.23 -7.45,2.49 -7.45,-2.49" transform="translate(3976.2,1164) rotate(27.53)" fill="none" stroke="#c6c6c6" stroke-width="1.3"/><polygon points="-3.65,-6.29 3.65,-6.29 9.13,-2.52 9.13,2.52 3.65,6.29 -3.65,6.29 -9.13,2.52 -9.13,-2.52" transform="translate(3998.2,1164) rotate(37.53)" fill="none" stroke="#c6c6c6" stroke-width="1.3"/><polygon points="-4.07,-9.21 4.07,-9.21 10.17,-3.68 10.17,3.68 4.07,9.21 -4.07,9.21 -10.17,3.68 -10.17,-3.68" transform="translate(4020.2,1164) rotate(3.35)" fill="none" stroke="#c6c6c6" stroke-width="1.3"/><polygon points="-4.51,-6.27 4.51,-6.27 11.28,-2.51 11.28,2.51 4.51,6.27 -4.51,6.27 -11.28,2.51 -11.28,-2.51" transform="translate(4042.2,1164) rotate(34.51)" fill="none" stroke="#c6c6c6" stroke-width="1.3"/><polygon points="-3.71,-7.36 3.71,-7.36 9.27,-2.94 9.27,2.94 3.71,7.36 -3.71,7.36 -9.27,2.94 -9.27,-2.94" transform="translate(4064.2,1164) rotate(22.12)" fill="none" stroke="#c6c6c6" stroke-width="1.3"/><polygon points="-4.65,-7.07 4.65,-7.07 11.63,-2.83 11.63,2.83 4.65,7.07 -4.65,7.07 -11.63,2.83 -11.63,-2.83" transform="translate(4086.2,1164) rotate(5.17)" fill="none" stroke="#c6c6c6" stroke-width="1.3"/><polygon points="-3.85,-6.95 3.85,-6.95 9.63,-2.78 9.63,2.78 3.85,6.95 -3.85,6.95 -9.63,2.78 -9.63,-2.78" transform="translate(4108.2,1164) rotate(4.38)" fill="none" stroke="#c6c6c6" stroke-width="1.3"/><polygon points="-3.12,-6.2 3.12,-6.2 7.81,-2.48 7.81,2.48 3.12,6.2 -3.12,6.2 -7.81,2.48 -7.81,-2.48" transform="translate(4130.2,1164) rotate(8.07)" fill="none" stroke="#c6c6c6" stroke-width="1.3"/><polygon points="-3.42,-7.22 3.42,-7.22 8.56,-2.89 8.56,2.89 3.42,7.22 -3.42,7.22 -8.56,2.89 -8.56,-2.89" transform="translate(3899.2,1181) rotate(30.38)" fill="none" stroke="#c6c6c6" stroke-width="1.3"/><polygon points="-3.38,-8 3.38,-8 8.45,-3.2 8.45,3.2 3.38,8 -3.38,8 -8.45,3.2 -8.45,-3.2" transform="translate(3921.2,1181) rotate(7.12)" fill="none" stroke="#c6c6c6" stroke-width="1.3"/><polygon points="-3.49,-6.07 3.49,-6.07 8.74,-2.43 8.74,2.43 3.49,6.07 -3.49,6.07 -8.74,2.43 -8.74,-2.43" transform="translate(3943.2,1181) rotate(10.02)" fill="none" stroke="#c6c6c6" stroke-width="1.3"/><polygon points="-2.83,-8.93 2.83,-8.93 7.08,-3.57 7.08,3.57 2.83,8.93 -2.83,8.93 -7.08,3.57 -7.08,-3.57" transform="translate(3965.2,1181) rotate(22.04)" fill="none" stroke="#c6c6c6" stroke-width="1.3"/><polygon points="-3.18,-7.9 3.18,-7.9 7.95,-3.16 7.95,3.16 3.18,7.9 -3.18,7.9 -7.95,3.16 -7.95,-3.16" transform="translate(3987.2,1181) rotate(37.39)" fill="none" stroke="#c6c6c6" stroke-width="1.3"/><polygon points="-3.01,-9.28 3.01,-9.28 7.53,-3.71 7.53,3.71 3.01,9.28 -3.01,9.28 -7.53,3.71 -7.53,-3.71" transform="translate(4009.2,1181) rotate(17.29)" fill="none" stroke="#c6c6c6" stroke-width="1.3"/><polygon points="-3.79,-9.34 3.79,-9.34 9.48,-3.74 9.48,3.74 3.79,9.34 -3.79,9.34 -9.48,3.74 -9.48,-3.74" transform="translate(4031.2,1181) rotate(15.72)" fill="none" stroke="#c6c6c6" stroke-width="1.3"/><polygon points="-3.81,-8.75 3.81,-8.75 9.53,-3.5 9.53,3.5 3.81,8.75 -3.81,8.75 -9.53,3.5 -9.53,-3.5" transform="translate(4053.2,1181) rotate(39.3)" fill="none" stroke="#c6c6c6" stroke-width="1.3"/><polygon points="-3.49,-9.33 3.49,-9.33 8.71,-3.73 8.71,3.73 3.49,9.33 -3.49,9.33 -8.71,3.73 -8.71,-3.73" transform="translate(4075.2,1181) rotate(28.27)" fill="none" stroke="#c6c6c6" stroke-width="1.3"/><polygon points="-4.07,-7.62 4.07,-7.62 10.18,-3.05 10.18,3.05 4.07,7.62 -4.07,7.62 -10.18,3.05 -10.18,-3.05" transform="translate(4097.2,1181) rotate(13.9)" fill="none" stroke="#c6c6c6" stroke-width="1.3"/><polygon points="-2.91,-6.52 2.91,-6.52 7.27,-2.61 7.27,2.61 2.91,6.52 -2.91,6.52 -7.27,2.61 -7.27,-2.61" transform="translate(4119.2,1181) rotate(2.83)" fill="none" stroke="#c6c6c6" stroke-width="1.3"/><polygon points="-4.28,-7.02 4.28,-7.02 10.7,-2.81 10.7,2.81 4.28,7.02 -4.28,7.02 -10.7,2.81 -10.7,-2.81" transform="translate(4141.2,1181) rotate(6.53)" fill="none" stroke="#c6c6c6" stroke-width="1.3"/><polygon points="-2.97,-9.37 2.97,-9.37 7.42,-3.75 7.42,3.75 2.97,9.37 -2.97,9.37 -7.42,3.75 -7.42,-3.75" transform="translate(3910.2,1198) rotate(34.82)" fill="none" stroke="#c6c6c6" stroke-width="1.3"/><polygon points="-4.14,-7.13 4.14,-7.13 10.35,-2.85 10.35,2.85 4.14,7.13 -4.14,7.13 -10.35,2.85 -10.35,-2.85" transform="translate(3932.2,1198) rotate(9.69)" fill="none" stroke="#c6c6c6" stroke-width="1.3"/><polygon points="-3.39,-7.84 3.39,-7.84 8.47,-3.14 8.47,3.14 3.39,7.84 -3.39,7.84 -8.47,3.14 -8.47,-3.14" transform="translate(3954.2,1198) rotate(6.3)" fill="none" stroke="#c6c6c6" stroke-width="1.3"/><polygon points="-3.69,-7.05 3.69,-7.05 9.23,-2.82 9.23,2.82 3.69,7.05 -3.69,7.05 -9.23,2.82 -9.23,-2.82" transform="translate(3976.2,1198) rotate(38.47)" fill="none" stroke="#c6c6c6" stroke-width="1.3"/><polygon points="-4.75,-8.19 4.75,-8.19 11.86,-3.28 11.86,3.28 4.75,8.19 -4.75,8.19 -11.86,3.28 -11.86,-3.28" transform="translate(3998.2,1198) rotate(9.78)" fill="none" stroke="#c6c6c6" stroke-width="1.3"/><polygon points="-4.73,-7.24 4.73,-7.24 11.83,-2.9 11.83,2.9 4.73,7.24 -4.73,7.24 -11.83,2.9 -11.83,-2.9" transform="translate(4020.2,1198) rotate(14.26)" fill="none" stroke="#c6c6c6" stroke-width="1.3"/><polygon points="-2.8,-7.53 2.8,-7.53 7.01,-3.01 7.01,3.01 2.8,7.53 -2.8,7.53 -7.01,3.01 -7.01,-3.01" transform="translate(4042.2,1198) rotate(18.99)" fill="none" stroke="#c6c6c6" stroke-width="1.3"/><polygon points="-3.81,-6.8 3.81,-6.8 9.51,-2.72 9.51,2.72 3.81,6.8 -3.81,6.8 -9.51,2.72 -9.51,-2.72" transform="translate(4064.2,1198) rotate(20.19)" fill="none" stroke="#c6c6c6" stroke-width="1.3"/><polygon points="-2.81,-7.06 2.81,-7.06 7.02,-2.82 7.02,2.82 2.81,7.06 -2.81,7.06 -7.02,2.82 -7.02,-2.82" transform="translate(4086.2,1198) rotate(3.59)" fill="none" stroke="#c6c6c6" stroke-width="1.3"/><polygon points="-3.6,-6.17 3.6,-6.17 9,-2.47 9,2.47 3.6,6.17 -3.6,6.17 -9,2.47 -9,-2.47" transform="translate(4108.2,1198) rotate(0.9)" fill="none" stroke="#c6c6c6" stroke-width="1.3"/><polygon points="-3.41,-6.93 3.41,-6.93 8.52,-2.77 8.52,2.77 3.41,6.93 -3.41,6.93 -8.52,2.77 -8.52,-2.77" transform="translate(4130.2,1198) rotate(23.42)" fill="none" stroke="#c6c6c6" stroke-width="1.3"/><polygon points="-3.86,-9 3.86,-9 9.65,-3.6 9.65,3.6 3.86,9 -3.86,9 -9.65,3.6 -9.65,-3.6" transform="translate(3899.2,1215) rotate(26.3)" fill="none" stroke="#c6c6c6" stroke-width="1.3"/><polygon points="-4.23,-9.52 4.23,-9.52 10.58,-3.81 10.58,3.81 4.23,9.52 -4.23,9.52 -10.58,3.81 -10.58,-3.81" transform="translate(3921.2,1215) rotate(15.58)" fill="none" stroke="#c6c6c6" stroke-width="1.3"/><polygon points="-3.45,-9.94 3.45,-9.94 8.63,-3.98 8.63,3.98 3.45,9.94 -3.45,9.94 -8.63,3.98 -8.63,-3.98" transform="translate(3943.2,1215) rotate(5.98)" fill="none" stroke="#c6c6c6" stroke-width="1.3"/><polygon points="-4.25,-8.57 4.25,-8.57 10.62,-3.43 10.62,3.43 4.25,8.57 -4.25,8.57 -10.62,3.43 -10.62,-3.43" transform="translate(3965.2,1215) rotate(1.75)" fill="none" stroke="#c6c6c6" stroke-width="1.3"/><polygon points="-4.47,-9.57 4.47,-9.57 11.18,-3.83 11.18,3.83 4.47,9.57 -4.47,9.57 -11.18,3.83 -11.18,-3.83" transform="translate(3987.2,1215) rotate(25.09)" fill="none" stroke="#c6c6c6" stroke-width="1.3"/><polygon points="-4.27,-9.25 4.27,-9.25 10.67,-3.7 10.67,3.7 4.27,9.25 -4.27,9.25 -10.67,3.7 -10.67,-3.7" transform="translate(4009.2,1215) rotate(5.57)" fill="none" stroke="#c6c6c6" stroke-width="1.3"/><polygon points="-3.85,-8.02 3.85,-8.02 9.62,-3.21 9.62,3.21 3.85,8.02 -3.85,8.02 -9.62,3.21 -9.62,-3.21" transform="translate(4031.2,1215) rotate(33.4)" fill="none" stroke="#c6c6c6" stroke-width="1.3"/><polygon points="-4.41,-9.31 4.41,-9.31 11.02,-3.72 11.02,3.72 4.41,9.31 -4.41,9.31 -11.02,3.72 -11.02,-3.72" transform="translate(4053.2,1215) rotate(23.36)" fill="none" stroke="#c6c6c6" stroke-width="1.3"/><polygon points="-4.59,-8.73 4.59,-8.73 11.46,-3.49 11.46,3.49 4.59,8.73 -4.59,8.73 -11.46,3.49 -11.46,-3.49" transform="translate(4075.2,1215) rotate(27.73)" fill="none" stroke="#c6c6c6" stroke-width="1.3"/><polygon points="-3.26,-6.12 3.26,-6.12 8.15,-2.45 8.15,2.45 3.26,6.12 -3.26,6.12 -8.15,2.45 -8.15,-2.45" transform="translate(4097.2,1215) rotate(5.32)" fill="none" stroke="#c6c6c6" stroke-width="1.3"/><polygon points="-3.52,-6.42 3.52,-6.42 8.8,-2.57 8.8,2.57 3.52,6.42 -3.52,6.42 -8.8,2.57 -8.8,-2.57" transform="translate(4119.2,1215) rotate(33.43)" fill="none" stroke="#c6c6c6" stroke-width="1.3"/><polygon points="-3.92,-8.51 3.92,-8.51 9.79,-3.4 9.79,3.4 3.92,8.51 -3.92,8.51 -9.79,3.4 -9.79,-3.4" transform="translate(4141.2,1215) rotate(25.05)" fill="none" stroke="#c6c6c6" stroke-width="1.3"/><polygon points="-4.16,-7.96 4.16,-7.96 10.4,-3.18 10.4,3.18 4.16,7.96 -4.16,7.96 -10.4,3.18 -10.4,-3.18" transform="translate(3910.2,1232) rotate(0.13)" fill="none" stroke="#c6c6c6" stroke-width="1.3"/><polygon points="-4.4,-8.99 4.4,-8.99 10.99,-3.6 10.99,3.6 4.4,8.99 -4.4,8.99 -10.99,3.6 -10.99,-3.6" transform="translate(3932.2,1232) rotate(20.12)" fill="none" stroke="#c6c6c6" stroke-width="1.3"/><polygon points="-3.87,-8.64 3.87,-8.64 9.68,-3.45 9.68,3.45 3.87,8.64 -3.87,8.64 -9.68,3.45 -9.68,-3.45" transform="translate(3954.2,1232) rotate(2.64)" fill="none" stroke="#c6c6c6" stroke-width="1.3"/><polygon points="-4.27,-7.01 4.27,-7.01 10.68,-2.8 10.68,2.8 4.27,7.01 -4.27,7.01 -10.68,2.8 -10.68,-2.8" transform="translate(3976.2,1232) rotate(2.98)" fill="none" stroke="#c6c6c6" stroke-width="1.3"/><polygon points="-3.33,-8.92 3.33,-8.92 8.33,-3.57 8.33,3.57 3.33,8.92 -3.33,8.92 -8.33,3.57 -8.33,-3.57" transform="translate(3998.2,1232) rotate(8.21)" fill="none" stroke="#c6c6c6" stroke-width="1.3"/><polygon points="-4.28,-9.9 4.28,-9.9 10.7,-3.96 10.7,3.96 4.28,9.9 -4.28,9.9 -10.7,3.96 -10.7,-3.96" transform="translate(4020.2,1232) rotate(19.76)" fill="none" stroke="#c6c6c6" stroke-width="1.3"/><polygon points="-3.57,-7.92 3.57,-7.92 8.91,-3.17 8.91,3.17 3.57,7.92 -3.57,7.92 -8.91,3.17 -8.91,-3.17" transform="translate(4042.2,1232) rotate(27.35)" fill="none" stroke="#c6c6c6" stroke-width="1.3"/><polygon points="-4.33,-8.47 4.33,-8.47 10.83,-3.39 10.83,3.39 4.33,8.47 -4.33,8.47 -10.83,3.39 -10.83,-3.39" transform="translate(4064.2,1232) rotate(25.71)" fill="none" stroke="#c6c6c6" stroke-width="1.3"/><polygon points="-2.95,-6.59 2.95,-6.59 7.39,-2.64 7.39,2.64 2.95,6.59 -2.95,6.59 -7.39,2.64 -7.39,-2.64" transform="translate(4086.2,1232) rotate(10.16)" fill="none" stroke="#c6c6c6" stroke-width="1.3"/><polygon points="-4.29,-7.22 4.29,-7.22 10.72,-2.89 10.72,2.89 4.29,7.22 -4.29,7.22 -10.72,2.89 -10.72,-2.89" transform="translate(4108.2,1232) rotate(22.71)" fill="none" stroke="#c6c6c6" stroke-width="1.3"/><polygon points="-2.82,-6.24 2.82,-6.24 7.06,-2.5 7.06,2.5 2.82,6.24 -2.82,6.24 -7.06,2.5 -7.06,-2.5" transform="translate(4130.2,1232) rotate(10.75)" fill="none" stroke="#c6c6c6" stroke-width="1.3"/><polygon points="-4.14,-8.77 4.14,-8.77 10.36,-3.51 10.36,3.51 4.14,8.77 -4.14,8.77 -10.36,3.51 -10.36,-3.51" transform="translate(3899.2,1249) rotate(27.03)" fill="none" stroke="#c6c6c6" stroke-width="1.3"/><polygon points="-3.38,-8.07 3.38,-8.07 8.45,-3.23 8.45,3.23 3.38,8.07 -3.38,8.07 -8.45,3.23 -8.45,-3.23" transform="translate(3921.2,1249) rotate(18.59)" fill="none" stroke="#c6c6c6" stroke-width="1.3"/><polygon points="-3.73,-6.47 3.73,-6.47 9.33,-2.59 9.33,2.59 3.73,6.47 -3.73,6.47 -9.33,2.59 -9.33,-2.59" transform="translate(3943.2,1249) rotate(35.75)" fill="none" stroke="#c6c6c6" stroke-width="1.3"/><polygon points="-3.2,-9.91 3.2,-9.91 8,-3.97 8,3.97 3.2,9.91 -3.2,9.91 -8,3.97 -8,-3.97" transform="translate(3965.2,1249) rotate(37.45)" fill="none" stroke="#c6c6c6" stroke-width="1.3"/><polygon points="-2.84,-7.84 2.84,-7.84 7.09,-3.13 7.09,3.13 2.84,7.84 -2.84,7.84 -7.09,3.13 -7.09,-3.13" transform="translate(3987.2,1249) rotate(32.8)" fill="none" stroke="#c6c6c6" stroke-width="1.3"/><polygon points="-4.74,-7.8 4.74,-7.8 11.84,-3.12 11.84,3.12 4.74,7.8 -4.74,7.8 -11.84,3.12 -11.84,-3.12" transform="translate(4009.2,1249) rotate(10.75)" fill="none" stroke="#c6c6c6" stroke-width="1.3"/><polygon points="-3.22,-9.78 3.22,-9.78 8.05,-3.91 8.05,3.91 3.22,9.78 -3.22,9.78 -8.05,3.91 -8.05,-3.91" transform="translate(4031.2,1249) rotate(8.43)" fill="none" stroke="#c6c6c6" stroke-width="1.3"/><polygon points="-3.96,-6.57 3.96,-6.57 9.91,-2.63 9.91,2.63 3.96,6.57 -3.96,6.57 -9.91,2.63 -9.91,-2.63" transform="translate(4053.2,1249) rotate(20.96)" fill="none" stroke="#c6c6c6" stroke-width="1.3"/><polygon points="-4.71,-6.53 4.71,-6.53 11.76,-2.61 11.76,2.61 4.71,6.53 -4.71,6.53 -11.76,2.61 -11.76,-2.61" transform="translate(4075.2,1249) rotate(32.81)" fill="none" stroke="#c6c6c6" stroke-width="1.3"/><polygon points="-3.82,-9.55 3.82,-9.55 9.54,-3.82 9.54,3.82 3.82,9.55 -3.82,9.55 -9.54,3.82 -9.54,-3.82" transform="translate(4097.2,1249) rotate(28.13)" fill="none" stroke="#c6c6c6" stroke-width="1.3"/><polygon points="-3.26,-9.59 3.26,-9.59 8.16,-3.84 8.16,3.84 3.26,9.59 -3.26,9.59 -8.16,3.84 -8.16,-3.84" transform="translate(4119.2,1249) rotate(19.45)" fill="none" stroke="#c6c6c6" stroke-width="1.3"/><polygon points="-2.85,-6.01 2.85,-6.01 7.12,-2.41 7.12,2.41 2.85,6.01 -2.85,6.01 -7.12,2.41 -7.12,-2.41" transform="translate(4141.2,1249) rotate(19.67)" fill="none" stroke="#c6c6c6" stroke-width="1.3"/><polygon points="-3.7,-7.21 3.7,-7.21 9.25,-2.88 9.25,2.88 3.7,7.21 -3.7,7.21 -9.25,2.88 -9.25,-2.88" transform="translate(3910.2,1266) rotate(5.63)" fill="none" stroke="#c6c6c6" stroke-width="1.3"/><polygon points="-3.49,-7.26 3.49,-7.26 8.72,-2.91 8.72,2.91 3.49,7.26 -3.49,7.26 -8.72,2.91 -8.72,-2.91" transform="translate(3932.2,1266) rotate(33.61)" fill="none" stroke="#c6c6c6" stroke-width="1.3"/><polygon points="-2.8,-9 2.8,-9 7.01,-3.6 7.01,3.6 2.8,9 -2.8,9 -7.01,3.6 -7.01,-3.6" transform="translate(3954.2,1266) rotate(33.56)" fill="none" stroke="#c6c6c6" stroke-width="1.3"/><polygon points="-3.04,-9.71 3.04,-9.71 7.6,-3.88 7.6,3.88 3.04,9.71 -3.04,9.71 -7.6,3.88 -7.6,-3.88" transform="translate(3976.2,1266) rotate(28.52)" fill="none" stroke="#c6c6c6" stroke-width="1.3"/><polygon points="-4.6,-7.16 4.6,-7.16 11.51,-2.86 11.51,2.86 4.6,7.16 -4.6,7.16 -11.51,2.86 -11.51,-2.86" transform="translate(3998.2,1266) rotate(14.89)" fill="none" stroke="#c6c6c6" stroke-width="1.3"/><polygon points="-3.59,-10 3.59,-10 8.96,-4 8.96,4 3.59,10 -3.59,10 -8.96,4 -8.96,-4" transform="translate(4020.2,1266) rotate(23.57)" fill="none" stroke="#c6c6c6" stroke-width="1.3"/><polygon points="-3.52,-7.71 3.52,-7.71 8.8,-3.08 8.8,3.08 3.52,7.71 -3.52,7.71 -8.8,3.08 -8.8,-3.08" transform="translate(4042.2,1266) rotate(11.01)" fill="none" stroke="#c6c6c6" stroke-width="1.3"/><polygon points="-2.9,-6.41 2.9,-6.41 7.24,-2.56 7.24,2.56 2.9,6.41 -2.9,6.41 -7.24,2.56 -7.24,-2.56" transform="translate(4064.2,1266) rotate(33.39)" fill="none" stroke="#c6c6c6" stroke-width="1.3"/><polygon points="-3.37,-9.74 3.37,-9.74 8.43,-3.9 8.43,3.9 3.37,9.74 -3.37,9.74 -8.43,3.9 -8.43,-3.9" transform="translate(4086.2,1266) rotate(9.97)" fill="none" stroke="#c6c6c6" stroke-width="1.3"/><polygon points="-3.33,-8.04 3.33,-8.04 8.33,-3.22 8.33,3.22 3.33,8.04 -3.33,8.04 -8.33,3.22 -8.33,-3.22" transform="translate(4108.2,1266) rotate(7.59)" fill="none" stroke="#c6c6c6" stroke-width="1.3"/><polygon points="-3.55,-9.82 3.55,-9.82 8.87,-3.93 8.87,3.93 3.55,9.82 -3.55,9.82 -8.87,3.93 -8.87,-3.93" transform="translate(4130.2,1266) rotate(35.37)" fill="none" stroke="#c6c6c6" stroke-width="1.3"/><polygon points="-4.42,-8.52 4.42,-8.52 11.06,-3.41 11.06,3.41 4.42,8.52 -4.42,8.52 -11.06,3.41 -11.06,-3.41" transform="translate(3899.2,1283) rotate(36.54)" fill="none" stroke="#c6c6c6" stroke-width="1.3"/><polygon points="-4.68,-8.2 4.68,-8.2 11.7,-3.28 11.7,3.28 4.68,8.2 -4.68,8.2 -11.7,3.28 -11.7,-3.28" transform="translate(3921.2,1283) rotate(28.78)" fill="none" stroke="#c6c6c6" stroke-width="1.3"/><polygon points="-2.9,-8.93 2.9,-8.93 7.25,-3.57 7.25,3.57 2.9,8.93 -2.9,8.93 -7.25,3.57 -7.25,-3.57" transform="translate(3943.2,1283) rotate(18.03)" fill="none" stroke="#c6c6c6" stroke-width="1.3"/><polygon points="-4.31,-8.58 4.31,-8.58 10.76,-3.43 10.76,3.43 4.31,8.58 -4.31,8.58 -10.76,3.43 -10.76,-3.43" transform="translate(3965.2,1283) rotate(11.45)" fill="none" stroke="#c6c6c6" stroke-width="1.3"/><polygon points="-2.9,-9.71 2.9,-9.71 7.24,-3.88 7.24,3.88 2.9,9.71 -2.9,9.71 -7.24,3.88 -7.24,-3.88" transform="translate(3987.2,1283) rotate(5.09)" fill="none" stroke="#c6c6c6" stroke-width="1.3"/><polygon points="-3.74,-7.37 3.74,-7.37 9.36,-2.95 9.36,2.95 3.74,7.37 -3.74,7.37 -9.36,2.95 -9.36,-2.95" transform="translate(4009.2,1283) rotate(11.91)" fill="none" stroke="#c6c6c6" stroke-width="1.3"/><polygon points="-4.28,-9.91 4.28,-9.91 10.7,-3.96 10.7,3.96 4.28,9.91 -4.28,9.91 -10.7,3.96 -10.7,-3.96" transform="translate(4031.2,1283) rotate(10.41)" fill="none" stroke="#c6c6c6" stroke-width="1.3"/><polygon points="-4.11,-7.2 4.11,-7.2 10.28,-2.88 10.28,2.88 4.11,7.2 -4.11,7.2 -10.28,2.88 -10.28,-2.88" transform="translate(4053.2,1283) rotate(22.29)" fill="none" stroke="#c6c6c6" stroke-width="1.3"/><polygon points="-3.59,-6.67 3.59,-6.67 8.97,-2.67 8.97,2.67 3.59,6.67 -3.59,6.67 -8.97,2.67 -8.97,-2.67" transform="translate(4075.2,1283) rotate(6.47)" fill="none" stroke="#c6c6c6" stroke-width="1.3"/><polygon points="-3.22,-9.62 3.22,-9.62 8.04,-3.85 8.04,3.85 3.22,9.62 -3.22,9.62 -8.04,3.85 -8.04,-3.85" transform="translate(4097.2,1283) rotate(19.88)" fill="none" stroke="#c6c6c6" stroke-width="1.3"/><polygon points="-3.24,-9.63 3.24,-9.63 8.1,-3.85 8.1,3.85 3.24,9.63 -3.24,9.63 -8.1,3.85 -8.1,-3.85" transform="translate(4119.2,1283) rotate(39.86)" fill="none" stroke="#c6c6c6" stroke-width="1.3"/><polygon points="-3.7,-6.56 3.7,-6.56 9.25,-2.62 9.25,2.62 3.7,6.56 -3.7,6.56 -9.25,2.62 -9.25,-2.62" transform="translate(4141.2,1283) rotate(7.7)" fill="none" stroke="#c6c6c6" stroke-width="1.3"/></g>
<polygon points="3975.1,1050 4068.3,1050 4134.2,1115.9 4134.2,1209.1 4068.3,1275 3975.1,1275 3909.2,1209.1 3909.2,1115.9" fill="none" stroke="#c0c0c0" stroke-width="1.8"/>
<line x1="2756" y1="1405.6" x2="2763" y2="1405.6" stroke="#333" stroke-width="2.4"/>
<line x1="2762" y1="1405.6" x2="4934" y2="1405.6" stroke="#333" stroke-width="2.4" stroke-dasharray="117.5,30.15"/>
<polygon points="2679,1406.5 2719,1366.1 2759,1406.5" fill="#000" stroke="none" stroke-width="0"/>
<circle cx="2719" cy="1406.5" r="27.6" fill="#fff" stroke="#333" stroke-width="2"/>
<line x1="2679" y1="1406.5" x2="2746.6" y2="1406.5" stroke="#444" stroke-width="2"/>
<polygon points="4933.5,1406.5 4973.5,1366.1 5013.5,1406.5" fill="#000" stroke="none" stroke-width="0"/>
<circle cx="4973.5" cy="1406.5" r="27.6" fill="#fff" stroke="#333" stroke-width="2"/>
<line x1="4933.5" y1="1406.5" x2="5001.1" y2="1406.5" stroke="#444" stroke-width="2"/>
<text x="298.8" y="320.2" font-size="77" fill="#000" text-anchor="start" textLength="270.98" lengthAdjust="spacing" transform="scale(0.92,1)">THIRD</text>
<text x="298.37" y="425.7" font-size="77" fill="#000" text-anchor="start" textLength="307.93" lengthAdjust="spacing" transform="scale(0.92,1)">FLOOR</text>
<text x="2910" y="320.2" font-size="77" fill="#000" text-anchor="start" textLength="255" lengthAdjust="spacing" transform="scale(0.92,1)">ROOF</text>
<text x="2911.85" y="426.9" font-size="77" fill="#000" text-anchor="start" textLength="233.37" lengthAdjust="spacing" transform="scale(0.92,1)">PLAN</text>
<text x="290.76" y="2348.1" font-size="73.7" fill="#000" text-anchor="start" textLength="358.15" lengthAdjust="spacing" transform="scale(0.92,1)">LEGEND:</text>
<text x="3648.42" y="3083.6" font-size="206" fill="#000" text-anchor="start" textLength="1628.63" lengthAdjust="spacing" transform="scale(0.95,1)">FLOOR PLANS</text>
<text x="5130.43" y="3228.6" font-size="106" fill="#000" text-anchor="start" textLength="312.17" lengthAdjust="spacing" transform="scale(0.92,1)">1:500</text>
<text x="428.26" y="2468" font-size="51.6" fill="#000" text-anchor="start" textLength="622.83" lengthAdjust="spacing" transform="scale(0.92,1)">MOSAIC WORKSHOP</text>
<text x="429.35" y="2559.5" font-size="51.6" fill="#000" text-anchor="start" textLength="524.46" lengthAdjust="spacing" transform="scale(0.92,1)">FASHION STUDIO</text>
<text x="429.35" y="2652" font-size="51.6" fill="#000" text-anchor="start" textLength="547.83" lengthAdjust="spacing" transform="scale(0.92,1)">PAINTING STUDIO</text>
<text x="431.52" y="2740.6" font-size="51.6" fill="#000" text-anchor="start" textLength="594.57" lengthAdjust="spacing" transform="scale(0.92,1)">SCULPTING STUDIO</text>
<text x="429.35" y="2833" font-size="51.6" fill="#000" text-anchor="start" textLength="653.26" lengthAdjust="spacing" transform="scale(0.92,1)">RUG MAKING STUDIO</text>
<text x="430.43" y="2922" font-size="51.6" fill="#000" text-anchor="start" textLength="642.93" lengthAdjust="spacing" transform="scale(0.92,1)">JEWELRY WORKSHOP</text>
<ellipse cx="340.5" cy="2453.3" rx="35.5" ry="31" fill="none" stroke="#f00" stroke-width="1.4"/>
<text x="314" y="2468" font-size="50" fill="#f00" text-anchor="start" textLength="57" lengthAdjust="spacing">26</text>
<ellipse cx="340.5" cy="2542" rx="35.5" ry="31" fill="none" stroke="#f00" stroke-width="1.4"/>
<text x="314" y="2559.5" font-size="50" fill="#f00" text-anchor="start" textLength="57" lengthAdjust="spacing">27</text>
<ellipse cx="340.5" cy="2634.4" rx="35.5" ry="31" fill="none" stroke="#f00" stroke-width="1.4"/>
<text x="314" y="2652" font-size="50" fill="#f00" text-anchor="start" textLength="57" lengthAdjust="spacing">28</text>
<ellipse cx="340.5" cy="2723" rx="35.5" ry="31" fill="none" stroke="#f00" stroke-width="1.4"/>
<text x="314" y="2740.6" font-size="50" fill="#f00" text-anchor="start" textLength="57" lengthAdjust="spacing">29</text>
<ellipse cx="340.5" cy="2815.5" rx="35.5" ry="31" fill="none" stroke="#f00" stroke-width="1.4"/>
<text x="314" y="2833" font-size="50" fill="#f00" text-anchor="start" textLength="57" lengthAdjust="spacing">30</text>
<ellipse cx="340.5" cy="2904.7" rx="35.5" ry="31" fill="none" stroke="#f00" stroke-width="1.4"/>
<text x="314" y="2922" font-size="50" fill="#f00" text-anchor="start" textLength="57" lengthAdjust="spacing">31</text>
<circle cx="4819" cy="2524.7" r="110" fill="none" stroke="#aaa" stroke-width="1.6"/>
<circle cx="4818" cy="2526" r="100" fill="none" stroke="#bbb" stroke-width="1.4"/>
<line x1="4692.2" y1="2488.7" x2="4945.8" y2="2561.2" stroke="#666" stroke-width="1.4"/>
<line x1="4854.7" y1="2398.2" x2="4782.2" y2="2652.3" stroke="#666" stroke-width="1.4"/>
<polygon points="4806.7,2522.6 4829,2528.4 4799.7,2633.6 4777.5,2627.8" fill="#000"/>
<polyline points="4747.1,2709.6 4763.5,2657 4784.5,2717.8 4800.9,2666.4" fill="none" stroke="#000" stroke-width="5.2" stroke-linejoin="bevel"/>
</svg></body></html>
